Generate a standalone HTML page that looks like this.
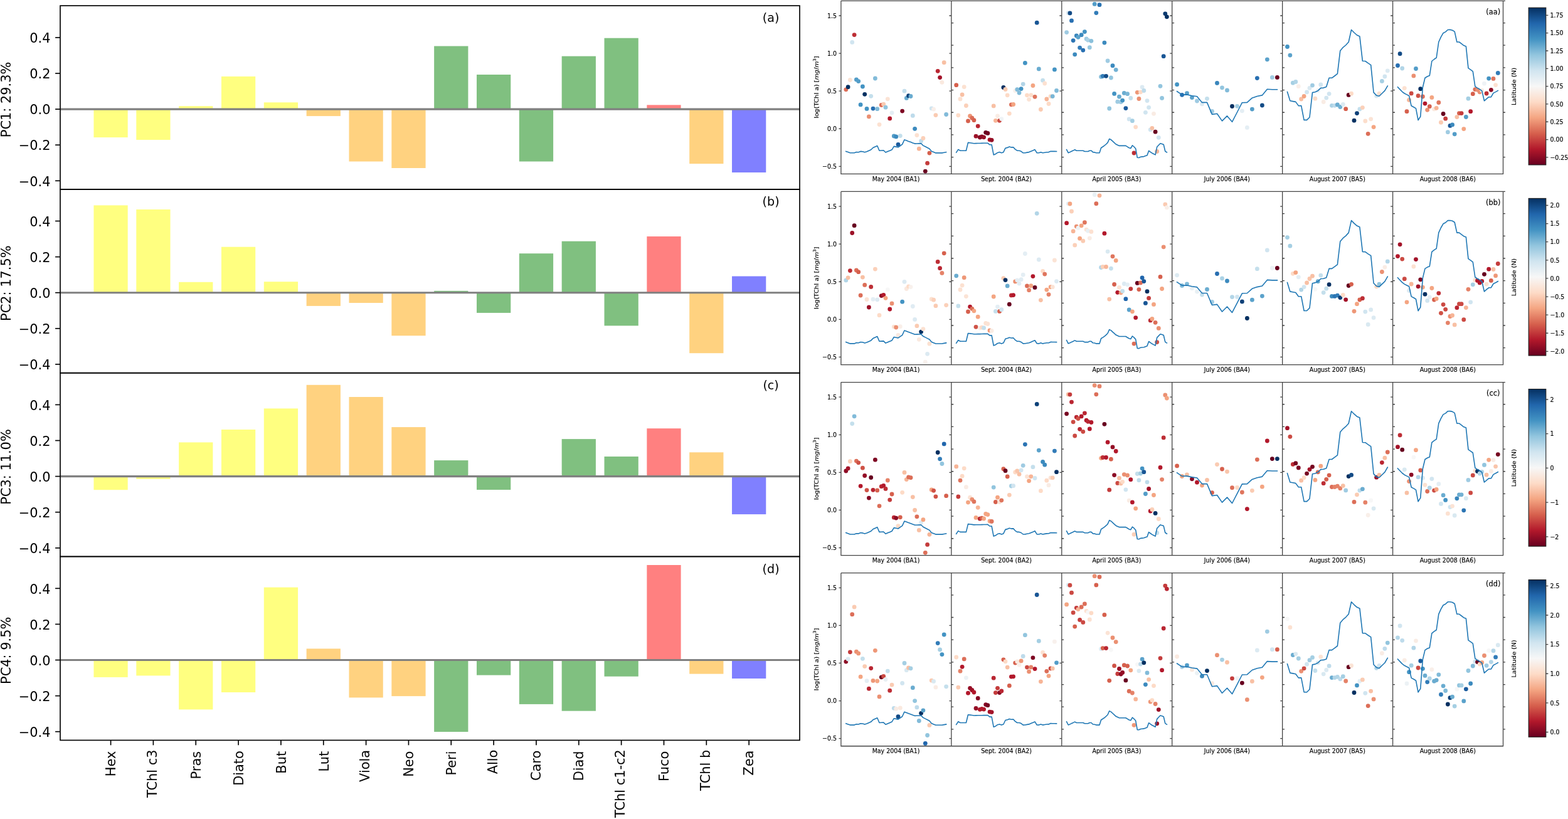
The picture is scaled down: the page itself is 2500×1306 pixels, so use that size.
<!DOCTYPE html>
<html lang="en"><head><meta charset="utf-8"><title>PCA loadings and TChl a scatter panels</title>
<style>
html,body{margin:0;padding:0;background:#fff;}
body{width:2500px;height:1306px;overflow:hidden;}
svg{display:block;font-family:'DejaVu Sans','Liberation Sans',sans-serif;}
</style></head><body>
<svg xmlns="http://www.w3.org/2000/svg" width="2500" height="1306" viewBox="0 0 2500 1306">
<rect width="2500" height="1306" fill="#fff"/>
<g id="left">
<rect x="149.43" y="174.10" width="54.27" height="45.00" fill="#ffff80"/>
<rect x="217.27" y="174.10" width="54.27" height="48.90" fill="#ffff80"/>
<rect x="285.11" y="169.20" width="54.27" height="4.90" fill="#ffff80"/>
<rect x="352.95" y="121.90" width="54.27" height="52.20" fill="#ffff80"/>
<rect x="420.79" y="163.30" width="54.27" height="10.80" fill="#ffff80"/>
<rect x="488.62" y="174.10" width="54.27" height="11.00" fill="#ffd280"/>
<rect x="556.47" y="174.10" width="54.27" height="83.40" fill="#ffd280"/>
<rect x="624.31" y="174.10" width="54.27" height="93.90" fill="#ffd280"/>
<rect x="692.14" y="73.50" width="54.27" height="100.60" fill="#80c080"/>
<rect x="759.99" y="119.00" width="54.27" height="55.10" fill="#80c080"/>
<rect x="827.83" y="174.10" width="54.27" height="83.40" fill="#80c080"/>
<rect x="895.66" y="89.60" width="54.27" height="84.50" fill="#80c080"/>
<rect x="963.51" y="60.70" width="54.27" height="113.40" fill="#80c080"/>
<rect x="1031.35" y="167.40" width="54.27" height="6.70" fill="#ff8080"/>
<rect x="1099.18" y="174.10" width="54.27" height="87.00" fill="#ffd280"/>
<rect x="1167.03" y="174.10" width="54.27" height="100.90" fill="#8080ff"/>
<line x1="96.0" x2="1275.0" y1="174.1" y2="174.1" stroke="#808080" stroke-width="3.1"/>
<rect x="149.43" y="327.40" width="54.27" height="139.30" fill="#ffff80"/>
<rect x="217.27" y="334.00" width="54.27" height="132.70" fill="#ffff80"/>
<rect x="285.11" y="449.80" width="54.27" height="16.90" fill="#ffff80"/>
<rect x="352.95" y="393.70" width="54.27" height="73.00" fill="#ffff80"/>
<rect x="420.79" y="449.20" width="54.27" height="17.50" fill="#ffff80"/>
<rect x="488.62" y="466.70" width="54.27" height="21.20" fill="#ffd280"/>
<rect x="556.47" y="466.70" width="54.27" height="16.30" fill="#ffd280"/>
<rect x="624.31" y="466.70" width="54.27" height="68.60" fill="#ffd280"/>
<rect x="692.14" y="463.80" width="54.27" height="2.90" fill="#80c080"/>
<rect x="759.99" y="466.70" width="54.27" height="32.20" fill="#80c080"/>
<rect x="827.83" y="404.20" width="54.27" height="62.50" fill="#80c080"/>
<rect x="895.66" y="384.70" width="54.27" height="82.00" fill="#80c080"/>
<rect x="963.51" y="466.70" width="54.27" height="52.70" fill="#80c080"/>
<rect x="1031.35" y="377.00" width="54.27" height="89.70" fill="#ff8080"/>
<rect x="1099.18" y="466.70" width="54.27" height="96.50" fill="#ffd280"/>
<rect x="1167.03" y="440.50" width="54.27" height="26.20" fill="#8080ff"/>
<line x1="96.0" x2="1275.0" y1="466.7" y2="466.7" stroke="#808080" stroke-width="3.1"/>
<rect x="149.43" y="759.60" width="54.27" height="21.60" fill="#ffff80"/>
<rect x="217.27" y="759.60" width="54.27" height="4.20" fill="#ffff80"/>
<rect x="285.11" y="705.40" width="54.27" height="54.20" fill="#ffff80"/>
<rect x="352.95" y="685.00" width="54.27" height="74.60" fill="#ffff80"/>
<rect x="420.79" y="651.40" width="54.27" height="108.20" fill="#ffff80"/>
<rect x="488.62" y="613.80" width="54.27" height="145.80" fill="#ffd280"/>
<rect x="556.47" y="633.00" width="54.27" height="126.60" fill="#ffd280"/>
<rect x="624.31" y="681.10" width="54.27" height="78.50" fill="#ffd280"/>
<rect x="692.14" y="734.10" width="54.27" height="25.50" fill="#80c080"/>
<rect x="759.99" y="759.60" width="54.27" height="21.40" fill="#80c080"/>
<rect x="895.66" y="700.10" width="54.27" height="59.50" fill="#80c080"/>
<rect x="963.51" y="728.00" width="54.27" height="31.60" fill="#80c080"/>
<rect x="1031.35" y="683.20" width="54.27" height="76.40" fill="#ff8080"/>
<rect x="1099.18" y="721.30" width="54.27" height="38.30" fill="#ffd280"/>
<rect x="1167.03" y="759.60" width="54.27" height="60.50" fill="#8080ff"/>
<line x1="96.0" x2="1275.0" y1="759.6" y2="759.6" stroke="#808080" stroke-width="3.1"/>
<rect x="149.43" y="1052.50" width="54.27" height="27.40" fill="#ffff80"/>
<rect x="217.27" y="1052.50" width="54.27" height="24.90" fill="#ffff80"/>
<rect x="285.11" y="1052.50" width="54.27" height="78.90" fill="#ffff80"/>
<rect x="352.95" y="1052.50" width="54.27" height="51.50" fill="#ffff80"/>
<rect x="420.79" y="936.60" width="54.27" height="115.90" fill="#ffff80"/>
<rect x="488.62" y="1034.40" width="54.27" height="18.10" fill="#ffd280"/>
<rect x="556.47" y="1052.50" width="54.27" height="59.90" fill="#ffd280"/>
<rect x="624.31" y="1052.50" width="54.27" height="57.60" fill="#ffd280"/>
<rect x="692.14" y="1052.50" width="54.27" height="114.50" fill="#80c080"/>
<rect x="759.99" y="1052.50" width="54.27" height="24.10" fill="#80c080"/>
<rect x="827.83" y="1052.50" width="54.27" height="70.40" fill="#80c080"/>
<rect x="895.66" y="1052.50" width="54.27" height="81.20" fill="#80c080"/>
<rect x="963.51" y="1052.50" width="54.27" height="26.20" fill="#80c080"/>
<rect x="1031.35" y="901.00" width="54.27" height="151.50" fill="#ff8080"/>
<rect x="1099.18" y="1052.50" width="54.27" height="22.10" fill="#ffd280"/>
<rect x="1167.03" y="1052.50" width="54.27" height="29.50" fill="#8080ff"/>
<line x1="96.0" x2="1275.0" y1="1052.5" y2="1052.5" stroke="#808080" stroke-width="3.1"/>
<rect x="96.0" y="9.1" width="1179.00" height="292.80" fill="none" stroke="#000" stroke-width="1.67"/>
<line x1="88.10" x2="96.0" y1="59.90" y2="59.90" stroke="#000" stroke-width="1.67"/>
<text x="80.50" y="68.10" text-anchor="end" font-size="20.9">0.4</text>
<line x1="88.10" x2="96.0" y1="117.00" y2="117.00" stroke="#000" stroke-width="1.67"/>
<text x="80.50" y="125.20" text-anchor="end" font-size="20.9">0.2</text>
<line x1="88.10" x2="96.0" y1="174.10" y2="174.10" stroke="#000" stroke-width="1.67"/>
<text x="80.50" y="182.30" text-anchor="end" font-size="20.9">0.0</text>
<line x1="88.10" x2="96.0" y1="231.20" y2="231.20" stroke="#000" stroke-width="1.67"/>
<text x="80.50" y="239.40" text-anchor="end" font-size="20.9">−0.2</text>
<line x1="88.10" x2="96.0" y1="288.30" y2="288.30" stroke="#000" stroke-width="1.67"/>
<text x="80.50" y="296.50" text-anchor="end" font-size="20.9">−0.4</text>
<text transform="translate(16.8,158.90) rotate(-90)" text-anchor="middle" font-size="20.9">PC1: 29.3%</text>
<text x="1229.1" y="35.10" text-anchor="middle" font-size="19.1">(a)</text>
<rect x="96.0" y="301.9" width="1179.00" height="292.80" fill="none" stroke="#000" stroke-width="1.67"/>
<line x1="88.10" x2="96.0" y1="352.50" y2="352.50" stroke="#000" stroke-width="1.67"/>
<text x="80.50" y="360.70" text-anchor="end" font-size="20.9">0.4</text>
<line x1="88.10" x2="96.0" y1="409.60" y2="409.60" stroke="#000" stroke-width="1.67"/>
<text x="80.50" y="417.80" text-anchor="end" font-size="20.9">0.2</text>
<line x1="88.10" x2="96.0" y1="466.70" y2="466.70" stroke="#000" stroke-width="1.67"/>
<text x="80.50" y="474.90" text-anchor="end" font-size="20.9">0.0</text>
<line x1="88.10" x2="96.0" y1="523.80" y2="523.80" stroke="#000" stroke-width="1.67"/>
<text x="80.50" y="532.00" text-anchor="end" font-size="20.9">−0.2</text>
<line x1="88.10" x2="96.0" y1="580.90" y2="580.90" stroke="#000" stroke-width="1.67"/>
<text x="80.50" y="589.10" text-anchor="end" font-size="20.9">−0.4</text>
<text transform="translate(16.8,451.70) rotate(-90)" text-anchor="middle" font-size="20.9">PC2: 17.5%</text>
<text x="1229.1" y="327.90" text-anchor="middle" font-size="19.1">(b)</text>
<rect x="96.0" y="594.7" width="1179.00" height="292.80" fill="none" stroke="#000" stroke-width="1.67"/>
<line x1="88.10" x2="96.0" y1="645.40" y2="645.40" stroke="#000" stroke-width="1.67"/>
<text x="80.50" y="653.60" text-anchor="end" font-size="20.9">0.4</text>
<line x1="88.10" x2="96.0" y1="702.50" y2="702.50" stroke="#000" stroke-width="1.67"/>
<text x="80.50" y="710.70" text-anchor="end" font-size="20.9">0.2</text>
<line x1="88.10" x2="96.0" y1="759.60" y2="759.60" stroke="#000" stroke-width="1.67"/>
<text x="80.50" y="767.80" text-anchor="end" font-size="20.9">0.0</text>
<line x1="88.10" x2="96.0" y1="816.70" y2="816.70" stroke="#000" stroke-width="1.67"/>
<text x="80.50" y="824.90" text-anchor="end" font-size="20.9">−0.2</text>
<line x1="88.10" x2="96.0" y1="873.80" y2="873.80" stroke="#000" stroke-width="1.67"/>
<text x="80.50" y="882.00" text-anchor="end" font-size="20.9">−0.4</text>
<text transform="translate(16.8,744.50) rotate(-90)" text-anchor="middle" font-size="20.9">PC3: 11.0%</text>
<text x="1229.1" y="620.70" text-anchor="middle" font-size="19.1">(c)</text>
<rect x="96.0" y="887.5" width="1179.00" height="292.90" fill="none" stroke="#000" stroke-width="1.67"/>
<line x1="88.10" x2="96.0" y1="938.30" y2="938.30" stroke="#000" stroke-width="1.67"/>
<text x="80.50" y="946.50" text-anchor="end" font-size="20.9">0.4</text>
<line x1="88.10" x2="96.0" y1="995.40" y2="995.40" stroke="#000" stroke-width="1.67"/>
<text x="80.50" y="1003.60" text-anchor="end" font-size="20.9">0.2</text>
<line x1="88.10" x2="96.0" y1="1052.50" y2="1052.50" stroke="#000" stroke-width="1.67"/>
<text x="80.50" y="1060.70" text-anchor="end" font-size="20.9">0.0</text>
<line x1="88.10" x2="96.0" y1="1109.60" y2="1109.60" stroke="#000" stroke-width="1.67"/>
<text x="80.50" y="1117.80" text-anchor="end" font-size="20.9">−0.2</text>
<line x1="88.10" x2="96.0" y1="1166.70" y2="1166.70" stroke="#000" stroke-width="1.67"/>
<text x="80.50" y="1174.90" text-anchor="end" font-size="20.9">−0.4</text>
<text transform="translate(16.8,1037.35) rotate(-90)" text-anchor="middle" font-size="20.9">PC4: 9.5%</text>
<text x="1229.1" y="913.50" text-anchor="middle" font-size="19.1">(d)</text>
<line x1="176.56" x2="176.56" y1="1180.4" y2="1188.30" stroke="#000" stroke-width="1.67"/>
<text transform="translate(184.36,1197.75) rotate(-90)" text-anchor="end" font-size="20.9">Hex</text>
<line x1="244.40" x2="244.40" y1="1180.4" y2="1188.30" stroke="#000" stroke-width="1.67"/>
<text transform="translate(250.00,1195.50) rotate(-90)" text-anchor="end" font-size="20.9">TChl c3</text>
<line x1="312.24" x2="312.24" y1="1180.4" y2="1188.30" stroke="#000" stroke-width="1.67"/>
<text transform="translate(320.04,1197.90) rotate(-90)" text-anchor="end" font-size="20.9">Pras</text>
<line x1="380.08" x2="380.08" y1="1180.4" y2="1188.30" stroke="#000" stroke-width="1.67"/>
<text transform="translate(388.18,1197.20) rotate(-90)" text-anchor="end" font-size="20.9">Diato</text>
<line x1="447.92" x2="447.92" y1="1180.4" y2="1188.30" stroke="#000" stroke-width="1.67"/>
<text transform="translate(455.92,1197.90) rotate(-90)" text-anchor="end" font-size="20.9">But</text>
<line x1="515.76" x2="515.76" y1="1180.4" y2="1188.30" stroke="#000" stroke-width="1.67"/>
<text transform="translate(523.56,1197.90) rotate(-90)" text-anchor="end" font-size="20.9">Lut</text>
<line x1="583.60" x2="583.60" y1="1180.4" y2="1188.30" stroke="#000" stroke-width="1.67"/>
<text transform="translate(589.40,1195.90) rotate(-90)" text-anchor="end" font-size="20.9">Viola</text>
<line x1="651.44" x2="651.44" y1="1180.4" y2="1188.30" stroke="#000" stroke-width="1.67"/>
<text transform="translate(659.24,1197.60) rotate(-90)" text-anchor="end" font-size="20.9">Neo</text>
<line x1="719.28" x2="719.28" y1="1180.4" y2="1188.30" stroke="#000" stroke-width="1.67"/>
<text transform="translate(727.28,1197.50) rotate(-90)" text-anchor="end" font-size="20.9">Peri</text>
<line x1="787.12" x2="787.12" y1="1180.4" y2="1188.30" stroke="#000" stroke-width="1.67"/>
<text transform="translate(793.12,1195.60) rotate(-90)" text-anchor="end" font-size="20.9">Allo</text>
<line x1="854.96" x2="854.96" y1="1180.4" y2="1188.30" stroke="#000" stroke-width="1.67"/>
<text transform="translate(861.96,1196.80) rotate(-90)" text-anchor="end" font-size="20.9">Caro</text>
<line x1="922.80" x2="922.80" y1="1180.4" y2="1188.30" stroke="#000" stroke-width="1.67"/>
<text transform="translate(930.40,1197.40) rotate(-90)" text-anchor="end" font-size="20.9">Diad</text>
<line x1="990.64" x2="990.64" y1="1180.4" y2="1188.30" stroke="#000" stroke-width="1.67"/>
<text transform="translate(996.44,1195.20) rotate(-90)" text-anchor="end" font-size="20.9">TChl c1-c2</text>
<line x1="1058.48" x2="1058.48" y1="1180.4" y2="1188.30" stroke="#000" stroke-width="1.67"/>
<text transform="translate(1066.48,1197.70) rotate(-90)" text-anchor="end" font-size="20.9">Fuco</text>
<line x1="1126.32" x2="1126.32" y1="1180.4" y2="1188.30" stroke="#000" stroke-width="1.67"/>
<text transform="translate(1132.12,1195.80) rotate(-90)" text-anchor="end" font-size="20.9">TChl b</text>
<line x1="1194.16" x2="1194.16" y1="1180.4" y2="1188.30" stroke="#000" stroke-width="1.67"/>
<text transform="translate(1201.06,1196.70) rotate(-90)" text-anchor="end" font-size="20.9">Zea</text>
</g>
<defs><linearGradient id="rdbu" x1="0" y1="1" x2="0" y2="0">
<stop offset="0.0" stop-color="#67001f"/>
<stop offset="0.1" stop-color="#b2182b"/>
<stop offset="0.2" stop-color="#d6604d"/>
<stop offset="0.3" stop-color="#f4a582"/>
<stop offset="0.4" stop-color="#fddbc7"/>
<stop offset="0.5" stop-color="#f7f7f7"/>
<stop offset="0.6" stop-color="#d1e5f0"/>
<stop offset="0.7" stop-color="#92c5de"/>
<stop offset="0.8" stop-color="#4393c3"/>
<stop offset="0.9" stop-color="#2166ac"/>
<stop offset="1.0" stop-color="#053061"/>
</linearGradient></defs>
<clipPath id="cl0"><rect x="1340.9" y="1.35" width="1055.64" height="276.10"/></clipPath>
<clipPath id="cl1"><rect x="1340.9" y="305.45" width="1055.64" height="276.10"/></clipPath>
<clipPath id="cl2"><rect x="1340.9" y="609.55" width="1055.64" height="276.10"/></clipPath>
<clipPath id="cl3"><rect x="1340.9" y="913.65" width="1055.64" height="276.10"/></clipPath>
<g id="right" font-size="9.45" fill="#000" stroke="#000" stroke-width="0.15">
<g id="row0">
<g stroke="none" clip-path="url(#cl0)">
<circle cx="1348.8" cy="142.8" r="3.4" fill="#dc6e58"/>
<circle cx="1352.1" cy="138.7" r="3.4" fill="#053061"/>
<circle cx="1355.4" cy="127.5" r="3.4" fill="#fbe3d5"/>
<circle cx="1358.7" cy="67.4" r="3.4" fill="#d1e5f0"/>
<circle cx="1362.1" cy="55.6" r="3.4" fill="#bd2e35"/>
<circle cx="1365.4" cy="126.9" r="3.4" fill="#539dc8"/>
<circle cx="1368.7" cy="129.6" r="3.4" fill="#539dc8"/>
<circle cx="1372.1" cy="166.9" r="3.4" fill="#4393c3"/>
<circle cx="1375.4" cy="138.0" r="3.4" fill="#4393c3"/>
<circle cx="1378.7" cy="150.3" r="3.4" fill="#053061"/>
<circle cx="1382.0" cy="173.4" r="3.4" fill="#4393c3"/>
<circle cx="1385.4" cy="185.9" r="3.4" fill="#eb9072"/>
<circle cx="1388.7" cy="153.3" r="3.4" fill="#c4dfec"/>
<circle cx="1392.0" cy="173.1" r="3.4" fill="#286fb1"/>
<circle cx="1395.4" cy="125.0" r="3.4" fill="#82bbd9"/>
<circle cx="1398.7" cy="173.7" r="3.4" fill="#82bbd9"/>
<circle cx="1402.0" cy="198.6" r="3.4" fill="#fce1d1"/>
<circle cx="1405.3" cy="167.5" r="3.4" fill="#dc6e58"/>
<circle cx="1408.7" cy="166.2" r="3.4" fill="#facbb2"/>
<circle cx="1412.0" cy="171.2" r="3.4" fill="#92c5de"/>
<circle cx="1415.3" cy="157.8" r="3.4" fill="#fbe3d5"/>
<circle cx="1418.7" cy="188.9" r="3.4" fill="#b2182b"/>
<circle cx="1422.0" cy="179.8" r="3.4" fill="#e4eef4"/>
<circle cx="1425.3" cy="217.0" r="3.4" fill="#539dc8"/>
<circle cx="1428.7" cy="217.9" r="3.4" fill="#3c8abe"/>
<circle cx="1432.0" cy="230.4" r="3.4" fill="#1b5b9d"/>
<circle cx="1435.3" cy="216.6" r="3.4" fill="#c4dfec"/>
<circle cx="1438.6" cy="177.1" r="3.4" fill="#7e0723"/>
<circle cx="1442.0" cy="145.2" r="3.4" fill="#c4dfec"/>
<circle cx="1445.3" cy="156.4" r="3.4" fill="#6aacd0"/>
<circle cx="1448.6" cy="152.7" r="3.4" fill="#0d4078"/>
<circle cx="1452.0" cy="153.5" r="3.4" fill="#6aacd0"/>
<circle cx="1455.3" cy="184.4" r="3.4" fill="#bedbeb"/>
<circle cx="1458.6" cy="205.3" r="3.4" fill="#3c8abe"/>
<circle cx="1461.9" cy="215.6" r="3.4" fill="#fce1d1"/>
<circle cx="1465.3" cy="237.2" r="3.4" fill="#f7b597"/>
<circle cx="1468.6" cy="225.0" r="3.4" fill="#bedbeb"/>
<circle cx="1471.9" cy="220.5" r="3.4" fill="#fbd0b9"/>
<circle cx="1475.3" cy="273.1" r="3.4" fill="#67001f"/>
<circle cx="1478.6" cy="260.2" r="3.4" fill="#c43c3c"/>
<circle cx="1481.9" cy="244.1" r="3.4" fill="#d6604d"/>
<circle cx="1485.2" cy="172.8" r="3.4" fill="#d1e5f0"/>
<circle cx="1488.6" cy="174.1" r="3.4" fill="#f9efe9"/>
<circle cx="1491.9" cy="183.6" r="3.4" fill="#facbb2"/>
<circle cx="1495.2" cy="113.3" r="3.4" fill="#b92632"/>
<circle cx="1498.6" cy="123.6" r="3.4" fill="#a31329"/>
<circle cx="1501.9" cy="131.3" r="3.4" fill="#fae9df"/>
<circle cx="1505.2" cy="99.7" r="3.4" fill="#f8c0a4"/>
<circle cx="1508.6" cy="182.5" r="3.4" fill="#82bbd9"/>
<circle cx="1524.7" cy="135.7" r="3.4" fill="#d6604d"/>
<circle cx="1527.8" cy="183.8" r="3.4" fill="#fddbc7"/>
<circle cx="1531.0" cy="157.9" r="3.4" fill="#fce1d1"/>
<circle cx="1534.1" cy="151.0" r="3.4" fill="#f8c0a4"/>
<circle cx="1537.2" cy="138.6" r="3.4" fill="#fce1d1"/>
<circle cx="1540.4" cy="168.5" r="3.4" fill="#fbd0b9"/>
<circle cx="1543.5" cy="192.9" r="3.4" fill="#d6604d"/>
<circle cx="1546.6" cy="185.0" r="3.4" fill="#ee9777"/>
<circle cx="1549.8" cy="188.2" r="3.4" fill="#dc6e58"/>
<circle cx="1552.9" cy="191.7" r="3.4" fill="#d6604d"/>
<circle cx="1556.0" cy="217.2" r="3.4" fill="#9c1127"/>
<circle cx="1559.2" cy="201.1" r="3.4" fill="#b92632"/>
<circle cx="1562.3" cy="219.0" r="3.4" fill="#850a24"/>
<circle cx="1565.4" cy="218.0" r="3.4" fill="#8c0c25"/>
<circle cx="1568.6" cy="218.8" r="3.4" fill="#940e26"/>
<circle cx="1571.7" cy="211.3" r="3.4" fill="#67001f"/>
<circle cx="1574.8" cy="212.4" r="3.4" fill="#6e0220"/>
<circle cx="1578.0" cy="222.8" r="3.4" fill="#b2182b"/>
<circle cx="1581.1" cy="223.3" r="3.4" fill="#940e26"/>
<circle cx="1584.2" cy="168.9" r="3.4" fill="#f8c0a4"/>
<circle cx="1587.4" cy="192.3" r="3.4" fill="#f7b597"/>
<circle cx="1590.5" cy="185.0" r="3.4" fill="#f9ece4"/>
<circle cx="1593.6" cy="192.3" r="3.4" fill="#cb4a43"/>
<circle cx="1596.8" cy="189.6" r="3.4" fill="#eff3f6"/>
<circle cx="1599.9" cy="139.5" r="3.4" fill="#053061"/>
<circle cx="1603.0" cy="142.5" r="3.4" fill="#facbb2"/>
<circle cx="1606.2" cy="151.8" r="3.4" fill="#fddbc7"/>
<circle cx="1609.3" cy="181.1" r="3.4" fill="#fddbc7"/>
<circle cx="1612.4" cy="166.8" r="3.4" fill="#dc6e58"/>
<circle cx="1615.6" cy="166.5" r="3.4" fill="#f4a582"/>
<circle cx="1618.7" cy="144.8" r="3.4" fill="#f8f1ed"/>
<circle cx="1621.8" cy="142.7" r="3.4" fill="#82bbd9"/>
<circle cx="1625.0" cy="148.0" r="3.4" fill="#82bbd9"/>
<circle cx="1628.1" cy="141.6" r="3.4" fill="#4393c3"/>
<circle cx="1631.2" cy="134.1" r="3.4" fill="#b2d5e7"/>
<circle cx="1634.4" cy="100.4" r="3.4" fill="#4393c3"/>
<circle cx="1637.5" cy="151.8" r="3.4" fill="#fddbc7"/>
<circle cx="1640.6" cy="158.6" r="3.4" fill="#fbe3d5"/>
<circle cx="1643.8" cy="151.6" r="3.4" fill="#fcdecc"/>
<circle cx="1646.9" cy="136.5" r="3.4" fill="#f4a582"/>
<circle cx="1650.0" cy="154.3" r="3.4" fill="#df755d"/>
<circle cx="1653.2" cy="36.2" r="3.4" fill="#195695"/>
<circle cx="1656.3" cy="109.9" r="3.4" fill="#6aacd0"/>
<circle cx="1659.4" cy="174.5" r="3.4" fill="#facbb2"/>
<circle cx="1662.6" cy="128.2" r="3.4" fill="#c4dfec"/>
<circle cx="1665.7" cy="133.0" r="3.4" fill="#fce1d1"/>
<circle cx="1668.8" cy="158.0" r="3.4" fill="#f7b597"/>
<circle cx="1672.0" cy="165.5" r="3.4" fill="#fddbc7"/>
<circle cx="1675.1" cy="153.6" r="3.4" fill="#fddbc7"/>
<circle cx="1678.2" cy="153.6" r="3.4" fill="#7ab6d6"/>
<circle cx="1681.4" cy="110.9" r="3.4" fill="#4393c3"/>
<circle cx="1684.5" cy="144.5" r="3.4" fill="#82bbd9"/>
<circle cx="1700.6" cy="51.6" r="3.4" fill="#9fcbe2"/>
<circle cx="1703.2" cy="20.7" r="3.4" fill="#dceaf2"/>
<circle cx="1705.9" cy="20.9" r="3.4" fill="#134b86"/>
<circle cx="1708.5" cy="32.9" r="3.4" fill="#286fb1"/>
<circle cx="1711.1" cy="64.6" r="3.4" fill="#2b74b3"/>
<circle cx="1713.7" cy="86.8" r="3.4" fill="#3c8abe"/>
<circle cx="1716.3" cy="57.0" r="3.4" fill="#3986bc"/>
<circle cx="1719.0" cy="59.3" r="3.4" fill="#5ba2cb"/>
<circle cx="1721.6" cy="76.1" r="3.4" fill="#327cb8"/>
<circle cx="1724.2" cy="55.7" r="3.4" fill="#3c8abe"/>
<circle cx="1726.8" cy="80.1" r="3.4" fill="#286fb1"/>
<circle cx="1729.4" cy="50.6" r="3.4" fill="#4393c3"/>
<circle cx="1732.1" cy="62.0" r="3.4" fill="#9fcbe2"/>
<circle cx="1734.7" cy="64.1" r="3.4" fill="#abd2e5"/>
<circle cx="1737.3" cy="75.7" r="3.4" fill="#98c8e0"/>
<circle cx="1739.9" cy="65.3" r="3.4" fill="#8ac0db"/>
<circle cx="1745.2" cy="6.4" r="3.4" fill="#539dc8"/>
<circle cx="1747.8" cy="20.6" r="3.4" fill="#327cb8"/>
<circle cx="1750.4" cy="-1.2" r="3.4" fill="#f7f7f7"/>
<circle cx="1753.0" cy="7.7" r="3.4" fill="#2b74b3"/>
<circle cx="1755.6" cy="122.4" r="3.4" fill="#82bbd9"/>
<circle cx="1758.3" cy="121.3" r="3.4" fill="#327cb8"/>
<circle cx="1760.9" cy="68.1" r="3.4" fill="#3c8abe"/>
<circle cx="1763.5" cy="121.3" r="3.4" fill="#134b86"/>
<circle cx="1766.1" cy="97.0" r="3.4" fill="#9fcbe2"/>
<circle cx="1768.7" cy="173.0" r="3.4" fill="#92c5de"/>
<circle cx="1771.4" cy="124.0" r="3.4" fill="#92c5de"/>
<circle cx="1774.0" cy="104.7" r="3.4" fill="#3c8abe"/>
<circle cx="1776.6" cy="149.4" r="3.4" fill="#4393c3"/>
<circle cx="1779.2" cy="111.3" r="3.4" fill="#72b1d3"/>
<circle cx="1781.8" cy="162.2" r="3.4" fill="#9fcbe2"/>
<circle cx="1784.5" cy="154.2" r="3.4" fill="#6aacd0"/>
<circle cx="1787.1" cy="162.7" r="3.4" fill="#9fcbe2"/>
<circle cx="1789.7" cy="160.1" r="3.4" fill="#4393c3"/>
<circle cx="1792.3" cy="148.4" r="3.4" fill="#6aacd0"/>
<circle cx="1794.9" cy="172.6" r="3.4" fill="#1b5b9d"/>
<circle cx="1797.6" cy="149.7" r="3.4" fill="#7ab6d6"/>
<circle cx="1800.2" cy="189.9" r="3.4" fill="#d1e5f0"/>
<circle cx="1802.8" cy="156.5" r="3.4" fill="#c4dfec"/>
<circle cx="1805.4" cy="192.7" r="3.4" fill="#a5cfe3"/>
<circle cx="1808.0" cy="244.0" r="3.4" fill="#bd2e35"/>
<circle cx="1810.7" cy="202.6" r="3.4" fill="#fddbc7"/>
<circle cx="1813.3" cy="147.3" r="3.4" fill="#ee9777"/>
<circle cx="1815.9" cy="157.5" r="3.4" fill="#eb9072"/>
<circle cx="1818.5" cy="146.8" r="3.4" fill="#fddbc7"/>
<circle cx="1821.1" cy="138.9" r="3.4" fill="#dceaf2"/>
<circle cx="1823.8" cy="144.5" r="3.4" fill="#bedbeb"/>
<circle cx="1826.4" cy="179.3" r="3.4" fill="#d1e5f0"/>
<circle cx="1829.0" cy="160.6" r="3.4" fill="#d1e5f0"/>
<circle cx="1831.6" cy="171.3" r="3.4" fill="#d1e5f0"/>
<circle cx="1834.2" cy="206.8" r="3.4" fill="#d1e5f0"/>
<circle cx="1836.9" cy="204.3" r="3.4" fill="#f8c0a4"/>
<circle cx="1839.5" cy="181.3" r="3.4" fill="#f9ece4"/>
<circle cx="1842.1" cy="210.2" r="3.4" fill="#67001f"/>
<circle cx="1844.7" cy="241.5" r="3.4" fill="#f7b597"/>
<circle cx="1847.3" cy="219.3" r="3.4" fill="#d1e5f0"/>
<circle cx="1850.0" cy="137.3" r="3.4" fill="#92c5de"/>
<circle cx="1852.6" cy="156.4" r="3.4" fill="#92c5de"/>
<circle cx="1855.2" cy="89.7" r="3.4" fill="#195695"/>
<circle cx="1857.8" cy="21.8" r="3.4" fill="#0b3b70"/>
<circle cx="1860.4" cy="26.8" r="3.4" fill="#053061"/>
<circle cx="1876.6" cy="134.7" r="3.4" fill="#4393c3"/>
<circle cx="1884.6" cy="151.3" r="3.4" fill="#286fb1"/>
<circle cx="1892.5" cy="148.7" r="3.4" fill="#5ba2cb"/>
<circle cx="1900.5" cy="155.6" r="3.4" fill="#5ba2cb"/>
<circle cx="1908.5" cy="161.0" r="3.4" fill="#9fcbe2"/>
<circle cx="1916.5" cy="165.9" r="3.4" fill="#dceaf2"/>
<circle cx="1924.5" cy="157.3" r="3.4" fill="#c4dfec"/>
<circle cx="1932.5" cy="177.4" r="3.4" fill="#9fcbe2"/>
<circle cx="1940.5" cy="132.4" r="3.4" fill="#3986bc"/>
<circle cx="1948.5" cy="139.8" r="3.4" fill="#92c5de"/>
<circle cx="1956.5" cy="143.9" r="3.4" fill="#82bbd9"/>
<circle cx="1964.5" cy="169.5" r="3.4" fill="#053061"/>
<circle cx="1972.5" cy="169.3" r="3.4" fill="#a5cfe3"/>
<circle cx="1980.4" cy="176.8" r="3.4" fill="#e4eef4"/>
<circle cx="1988.4" cy="203.4" r="3.4" fill="#e4eef4"/>
<circle cx="1996.4" cy="174.1" r="3.4" fill="#539dc8"/>
<circle cx="2004.4" cy="124.6" r="3.4" fill="#286fb1"/>
<circle cx="2012.4" cy="168.0" r="3.4" fill="#134b86"/>
<circle cx="2020.4" cy="94.8" r="3.4" fill="#5ba2cb"/>
<circle cx="2028.4" cy="123.4" r="3.4" fill="#9fcbe2"/>
<circle cx="2036.4" cy="123.4" r="3.4" fill="#67001f"/>
<circle cx="2052.5" cy="74.5" r="3.4" fill="#4393c3"/>
<circle cx="2056.9" cy="88.1" r="3.4" fill="#5ba2cb"/>
<circle cx="2061.4" cy="132.2" r="3.4" fill="#a5cfe3"/>
<circle cx="2065.8" cy="130.5" r="3.4" fill="#b2d5e7"/>
<circle cx="2070.3" cy="137.7" r="3.4" fill="#f9efe9"/>
<circle cx="2074.7" cy="158.0" r="3.4" fill="#f8c0a4"/>
<circle cx="2079.1" cy="153.5" r="3.4" fill="#f4a582"/>
<circle cx="2083.6" cy="146.9" r="3.4" fill="#d1e5f0"/>
<circle cx="2088.0" cy="140.4" r="3.4" fill="#d9e9f1"/>
<circle cx="2092.5" cy="136.1" r="3.4" fill="#9fcbe2"/>
<circle cx="2096.9" cy="157.2" r="3.4" fill="#fddbc7"/>
<circle cx="2101.3" cy="144.6" r="3.4" fill="#ecf2f5"/>
<circle cx="2105.8" cy="135.0" r="3.4" fill="#d1e5f0"/>
<circle cx="2110.2" cy="162.5" r="3.4" fill="#f9ece4"/>
<circle cx="2114.7" cy="156.1" r="3.4" fill="#d1e5f0"/>
<circle cx="2119.1" cy="149.6" r="3.4" fill="#d1e5f0"/>
<circle cx="2123.5" cy="168.3" r="3.4" fill="#abd2e5"/>
<circle cx="2128.0" cy="168.3" r="3.4" fill="#bedbeb"/>
<circle cx="2132.4" cy="167.0" r="3.4" fill="#6aacd0"/>
<circle cx="2136.8" cy="170.5" r="3.4" fill="#72b1d3"/>
<circle cx="2141.3" cy="166.4" r="3.4" fill="#dceaf2"/>
<circle cx="2145.7" cy="173.7" r="3.4" fill="#d6604d"/>
<circle cx="2150.2" cy="151.4" r="3.4" fill="#67001f"/>
<circle cx="2154.6" cy="149.2" r="3.4" fill="#fddbc7"/>
<circle cx="2159.0" cy="192.2" r="3.4" fill="#053061"/>
<circle cx="2163.5" cy="180.6" r="3.4" fill="#0d4078"/>
<circle cx="2167.9" cy="173.9" r="3.4" fill="#c4dfec"/>
<circle cx="2172.4" cy="171.6" r="3.4" fill="#fbd0b9"/>
<circle cx="2176.8" cy="193.0" r="3.4" fill="#fcdecc"/>
<circle cx="2181.2" cy="213.3" r="3.4" fill="#dc6e58"/>
<circle cx="2185.7" cy="189.8" r="3.4" fill="#fbe3d5"/>
<circle cx="2190.1" cy="202.6" r="3.4" fill="#f4a582"/>
<circle cx="2194.6" cy="153.0" r="3.4" fill="#d9e9f1"/>
<circle cx="2199.0" cy="149.1" r="3.4" fill="#fce1d1"/>
<circle cx="2203.4" cy="129.4" r="3.4" fill="#a5cfe3"/>
<circle cx="2207.9" cy="122.0" r="3.4" fill="#d1e5f0"/>
<circle cx="2212.3" cy="112.8" r="3.4" fill="#dceaf2"/>
<circle cx="2228.5" cy="104.5" r="3.4" fill="#286fb1"/>
<circle cx="2232.1" cy="85.7" r="3.4" fill="#134b86"/>
<circle cx="2235.7" cy="109.0" r="3.4" fill="#b2d5e7"/>
<circle cx="2239.3" cy="140.6" r="3.4" fill="#fce1d1"/>
<circle cx="2243.0" cy="177.7" r="3.4" fill="#d6604d"/>
<circle cx="2246.6" cy="159.4" r="3.4" fill="#f7b597"/>
<circle cx="2250.2" cy="148.9" r="3.4" fill="#cb4a43"/>
<circle cx="2253.9" cy="120.9" r="3.4" fill="#eb9072"/>
<circle cx="2257.5" cy="109.5" r="3.4" fill="#539dc8"/>
<circle cx="2261.1" cy="152.7" r="3.4" fill="#cf5246"/>
<circle cx="2264.8" cy="141.7" r="3.4" fill="#053061"/>
<circle cx="2268.4" cy="154.0" r="3.4" fill="#dc6e58"/>
<circle cx="2272.0" cy="165.1" r="3.4" fill="#b2182b"/>
<circle cx="2275.7" cy="175.3" r="3.4" fill="#eb9072"/>
<circle cx="2279.3" cy="169.7" r="3.4" fill="#d6604d"/>
<circle cx="2282.9" cy="155.4" r="3.4" fill="#f4a582"/>
<circle cx="2286.6" cy="173.9" r="3.4" fill="#fae9df"/>
<circle cx="2290.2" cy="172.3" r="3.4" fill="#f7b597"/>
<circle cx="2293.8" cy="163.5" r="3.4" fill="#df755d"/>
<circle cx="2297.5" cy="195.2" r="3.4" fill="#facbb2"/>
<circle cx="2301.1" cy="181.5" r="3.4" fill="#67001f"/>
<circle cx="2304.7" cy="189.2" r="3.4" fill="#c43c3c"/>
<circle cx="2308.4" cy="210.7" r="3.4" fill="#9fcbe2"/>
<circle cx="2312.0" cy="200.4" r="3.4" fill="#195695"/>
<circle cx="2315.6" cy="198.9" r="3.4" fill="#3c8abe"/>
<circle cx="2319.2" cy="213.8" r="3.4" fill="#539dc8"/>
<circle cx="2322.9" cy="186.6" r="3.4" fill="#f8c0a4"/>
<circle cx="2326.5" cy="180.6" r="3.4" fill="#d6604d"/>
<circle cx="2330.1" cy="180.6" r="3.4" fill="#c43c3c"/>
<circle cx="2333.8" cy="205.6" r="3.4" fill="#f4a582"/>
<circle cx="2337.4" cy="186.5" r="3.4" fill="#539dc8"/>
<circle cx="2341.0" cy="157.2" r="3.4" fill="#a5cfe3"/>
<circle cx="2344.7" cy="177.7" r="3.4" fill="#b2182b"/>
<circle cx="2348.3" cy="149.7" r="3.4" fill="#d6604d"/>
<circle cx="2351.9" cy="142.6" r="3.4" fill="#dc6e58"/>
<circle cx="2355.6" cy="143.3" r="3.4" fill="#eb9072"/>
<circle cx="2359.2" cy="146.8" r="3.4" fill="#eb9072"/>
<circle cx="2362.8" cy="144.2" r="3.4" fill="#f9ece4"/>
<circle cx="2366.5" cy="133.2" r="3.4" fill="#eff3f6"/>
<circle cx="2370.1" cy="149.0" r="3.4" fill="#bd2e35"/>
<circle cx="2373.7" cy="125.1" r="3.4" fill="#4393c3"/>
<circle cx="2377.4" cy="143.3" r="3.4" fill="#8c0c25"/>
<circle cx="2381.0" cy="125.4" r="3.4" fill="#df755d"/>
<circle cx="2384.6" cy="135.6" r="3.4" fill="#fce1d1"/>
<circle cx="2388.3" cy="116.4" r="3.4" fill="#327cb8"/>
</g>
<polyline points="1348.8,241.4 1352.1,242.6 1355.4,243.8 1358.7,243.8 1362.1,243.8 1365.4,242.5 1368.7,242.7 1372.1,241.4 1375.4,241.7 1378.7,242.8 1382.0,241.8 1385.4,240.3 1388.7,238.8 1392.0,235.5 1395.4,234.0 1398.7,232.5 1402.0,240.2 1405.3,240.0 1408.7,239.8 1412.0,243.0 1415.3,241.6 1418.7,240.2 1422.0,238.8 1425.3,233.4 1428.7,234.1 1432.0,234.8 1435.3,232.5 1438.6,230.2 1442.0,222.9 1445.3,224.1 1448.6,225.4 1452.0,226.6 1455.3,227.9 1458.6,229.1 1461.9,229.0 1465.3,228.9 1468.6,228.8 1471.9,232.1 1475.3,233.8 1478.6,235.5 1481.9,237.2 1485.2,241.2 1488.6,242.6 1491.9,243.9 1495.2,243.9 1498.6,243.9 1501.9,243.9 1505.2,243.3 1508.6,242.7" fill="none" stroke="#1f77b4" stroke-width="1.6" stroke-linejoin="round" stroke-linecap="square"/>
<polyline points="1524.7,243.1 1527.8,238.4 1531.0,240.2 1534.1,240.2 1537.2,240.2 1540.4,240.2 1543.5,227.4 1546.6,227.8 1549.8,228.2 1552.9,228.7 1556.0,228.6 1559.2,228.5 1562.3,228.5 1565.4,228.4 1568.6,228.3 1571.7,228.3 1574.8,228.2 1578.0,230.8 1581.1,230.8 1584.2,246.9 1587.4,245.6 1590.5,243.4 1593.6,242.6 1596.8,243.8 1599.9,242.7 1603.0,236.2 1606.2,235.4 1609.3,234.1 1612.4,234.9 1615.6,234.7 1618.7,238.1 1621.8,240.2 1625.0,240.2 1628.1,241.3 1631.2,243.8 1634.4,243.7 1637.5,243.1 1640.6,242.6 1643.8,241.3 1646.9,240.0 1650.0,238.6 1653.2,243.7 1656.3,243.8 1659.4,242.7 1662.6,243.8 1665.7,243.2 1668.8,242.7 1672.0,242.6 1675.1,241.3 1678.2,241.4 1681.4,241.4 1684.5,241.5" fill="none" stroke="#1f77b4" stroke-width="1.6" stroke-linejoin="round" stroke-linecap="square"/>
<polyline points="1700.6,238.6 1703.2,243.7 1705.9,242.6 1708.5,241.3 1711.1,240.1 1713.7,238.8 1716.3,240.2 1719.0,240.2 1721.6,240.2 1724.2,240.2 1726.8,240.2 1729.4,241.5 1732.1,241.5 1734.7,241.5 1737.3,240.2 1739.9,240.2 1742.5,242.7 1745.2,242.9 1747.8,243.8 1750.4,243.8 1753.0,243.8 1755.6,235.7 1758.3,234.0 1760.9,232.2 1763.5,230.0 1766.1,227.4 1768.7,221.5 1771.4,222.8 1774.0,225.2 1776.6,227.6 1779.2,230.0 1781.8,231.2 1784.5,232.4 1787.1,232.4 1789.7,232.4 1792.3,232.4 1794.9,232.4 1797.6,234.1 1800.2,235.7 1802.8,236.5 1805.4,231.9 1808.0,234.0 1810.7,237.0 1813.3,251.3 1815.9,251.5 1818.5,250.2 1821.1,249.9 1823.8,249.6 1826.4,248.6 1829.0,247.7 1831.6,240.4 1834.2,242.3 1836.9,244.2 1839.5,245.5 1842.1,246.9 1844.7,234.3 1847.3,231.5 1850.0,228.7 1852.6,229.5 1855.2,230.4 1857.8,241.3 1860.4,242.9" fill="none" stroke="#1f77b4" stroke-width="1.6" stroke-linejoin="round" stroke-linecap="square"/>
<polyline points="1876.6,145.7 1884.6,151.1 1892.5,150.9 1900.5,152.7 1908.5,153.8 1916.5,163.4 1924.5,163.4 1932.5,182.4 1940.5,181.3 1948.5,192.9 1956.5,184.9 1964.5,194.3 1972.5,179.0 1980.4,163.7 1988.4,163.4 1996.4,156.2 2004.4,153.5 2012.4,151.9 2020.4,142.3 2028.4,142.8 2036.4,142.8" fill="none" stroke="#1f77b4" stroke-width="1.6" stroke-linejoin="round" stroke-linecap="square"/>
<polyline points="2052.5,146.5 2056.9,160.8 2061.4,161.6 2065.8,162.4 2070.3,168.6 2074.7,168.6 2079.1,191.4 2083.6,191.4 2088.0,187.0 2092.5,147.6 2096.9,146.8 2101.3,144.7 2105.8,140.4 2110.2,140.1 2114.7,138.6 2119.1,124.3 2123.5,124.3 2128.0,121.0 2132.4,117.7 2136.8,80.9 2141.3,75.6 2145.7,72.0 2150.2,67.0 2154.6,47.5 2159.0,52.0 2163.5,56.0 2167.9,57.9 2172.4,97.3 2176.8,97.5 2181.2,100.7 2185.7,103.6 2190.1,147.4 2194.6,152.2 2199.0,153.3 2203.4,149.0 2207.9,144.7 2212.3,137.0" fill="none" stroke="#1f77b4" stroke-width="1.6" stroke-linejoin="round" stroke-linecap="square"/>
<polyline points="2228.5,138.8 2232.1,142.6 2235.7,146.3 2239.3,149.0 2243.0,150.9 2246.6,152.7 2250.2,168.8 2253.9,170.7 2257.5,172.9 2261.1,191.6 2264.8,185.7 2268.4,139.3 2272.0,124.3 2275.7,122.0 2279.3,120.6 2282.9,97.5 2286.6,94.5 2290.2,92.2 2293.8,67.0 2297.5,58.9 2301.1,52.7 2304.7,50.9 2308.4,47.5 2312.0,47.4 2315.6,48.2 2319.2,50.4 2322.9,67.0 2326.5,67.0 2330.1,69.7 2333.8,72.6 2337.4,73.9 2341.0,108.6 2344.7,111.1 2348.3,113.8 2351.9,137.9 2355.6,140.4 2359.2,142.3 2362.8,144.9 2366.5,160.8 2370.1,157.6 2373.7,154.7 2377.4,154.6 2381.0,148.4 2384.6,146.6 2388.3,144.5" fill="none" stroke="#1f77b4" stroke-width="1.6" stroke-linejoin="round" stroke-linecap="square"/>
<path d="M1340.90,1.35H2399.94M2396.54,1.35V277.45H1340.90V1.35M1516.84,1.35V277.45M1692.78,1.35V277.45M1868.72,1.35V277.45M2044.66,1.35V277.45M2220.60,1.35V277.45M1337.50,25.00H1340.90M1337.50,85.08H1340.90M1337.50,145.16H1340.90M1337.50,205.24H1340.90M1337.50,265.32H1340.90M1516.84,36.55h3.4M1516.84,72.22h3.4M1516.84,107.89h3.4M1516.84,143.56h3.4M1516.84,179.23h3.4M1516.84,214.90h3.4M1516.84,250.57h3.4M1513.44,25.00H1516.84M1513.44,85.08H1516.84M1513.44,145.16H1516.84M1513.44,205.24H1516.84M1513.44,265.32H1516.84M1692.78,36.55h3.4M1692.78,72.22h3.4M1692.78,107.89h3.4M1692.78,143.56h3.4M1692.78,179.23h3.4M1692.78,214.90h3.4M1692.78,250.57h3.4M1689.38,25.00H1692.78M1689.38,85.08H1692.78M1689.38,145.16H1692.78M1689.38,205.24H1692.78M1689.38,265.32H1692.78M1868.72,36.55h3.4M1868.72,72.22h3.4M1868.72,107.89h3.4M1868.72,143.56h3.4M1868.72,179.23h3.4M1868.72,214.90h3.4M1868.72,250.57h3.4M1865.32,25.00H1868.72M1865.32,85.08H1868.72M1865.32,145.16H1868.72M1865.32,205.24H1868.72M1865.32,265.32H1868.72M2044.66,36.55h3.4M2044.66,72.22h3.4M2044.66,107.89h3.4M2044.66,143.56h3.4M2044.66,179.23h3.4M2044.66,214.90h3.4M2044.66,250.57h3.4M2041.26,25.00H2044.66M2041.26,85.08H2044.66M2041.26,145.16H2044.66M2041.26,205.24H2044.66M2041.26,265.32H2044.66M2220.60,36.55h3.4M2220.60,72.22h3.4M2220.60,107.89h3.4M2220.60,143.56h3.4M2220.60,179.23h3.4M2220.60,214.90h3.4M2220.60,250.57h3.4M2217.20,25.00H2220.60M2217.20,85.08H2220.60M2217.20,145.16H2220.60M2217.20,205.24H2220.60M2217.20,265.32H2220.60M2396.54,36.55h3.4M2396.54,72.22h3.4M2396.54,107.89h3.4M2396.54,143.56h3.4M2396.54,179.23h3.4M2396.54,214.90h3.4M2396.54,250.57h3.4" fill="none" stroke="#444" stroke-width="1.3"/>
<text transform="translate(1333.90,28.75) scale(1,1.07)" text-anchor="end">1.5</text>
<text transform="translate(1333.90,88.83) scale(1,1.07)" text-anchor="end">1.0</text>
<text transform="translate(1333.90,148.91) scale(1,1.07)" text-anchor="end">0.5</text>
<text transform="translate(1333.90,208.99) scale(1,1.07)" text-anchor="end">0.0</text>
<text transform="translate(1333.90,269.07) scale(1,1.07)" text-anchor="end">−0.5</text>
<text transform="translate(1428.57,289.15) scale(1,1.07)" text-anchor="middle">May 2004 (BA1)</text>
<text transform="translate(1604.51,289.15) scale(1,1.07)" text-anchor="middle">Sept. 2004 (BA2)</text>
<text transform="translate(1780.45,289.15) scale(1,1.07)" text-anchor="middle">April 2005 (BA3)</text>
<text transform="translate(1956.39,289.15) scale(1,1.07)" text-anchor="middle">July 2006 (BA4)</text>
<text transform="translate(2132.33,289.15) scale(1,1.07)" text-anchor="middle">August 2007 (BA5)</text>
<text transform="translate(2308.27,289.15) scale(1,1.07)" text-anchor="middle">August 2008 (BA6)</text>
<text transform="translate(1304.50,139.10) rotate(-90) scale(1.07,1)" text-anchor="middle">log(TChl a) [<tspan font-style="italic">mg</tspan>/<tspan font-style="italic">m</tspan><tspan font-size="6.61" dy="-3.4">3</tspan><tspan dy="3.4">]</tspan></text>
<text transform="translate(2417.20,138.00) rotate(-90) scale(1.07,1)" text-anchor="middle">Latitude (N)</text>
<text transform="translate(2380.70,22.85) scale(1,1.07)" text-anchor="middle" font-size="11.4">(aa)</text>
<rect x="2437.2" y="12.30" width="27.60" height="250.60" fill="url(#rdbu)" stroke="#1a1a1a" stroke-width="1.1"/>
<path d="M2464.8,24.40h3.6M2464.8,52.71h3.6M2464.8,81.02h3.6M2464.8,109.33h3.6M2464.8,137.64h3.6M2464.8,165.95h3.6M2464.8,194.26h3.6M2464.8,222.57h3.6M2464.8,250.88h3.6" fill="none" stroke="#444" stroke-width="1.3"/>
<text transform="translate(2471.40,28.15) scale(1,1.07)">1.75</text>
<text transform="translate(2471.40,56.46) scale(1,1.07)">1.50</text>
<text transform="translate(2471.40,84.77) scale(1,1.07)">1.25</text>
<text transform="translate(2471.40,113.08) scale(1,1.07)">1.00</text>
<text transform="translate(2471.40,141.39) scale(1,1.07)">0.75</text>
<text transform="translate(2471.40,169.70) scale(1,1.07)">0.50</text>
<text transform="translate(2471.40,198.01) scale(1,1.07)">0.25</text>
<text transform="translate(2471.40,226.32) scale(1,1.07)">0.00</text>
<text transform="translate(2471.40,254.63) scale(1,1.07)">−0.25</text>
</g>
<g id="row1">
<g stroke="none" clip-path="url(#cl1)">
<circle cx="1348.8" cy="446.9" r="3.4" fill="#b2d5e7"/>
<circle cx="1352.1" cy="442.8" r="3.4" fill="#f8c0a4"/>
<circle cx="1355.4" cy="431.6" r="3.4" fill="#bd2e35"/>
<circle cx="1358.7" cy="371.5" r="3.4" fill="#9c1127"/>
<circle cx="1362.1" cy="359.7" r="3.4" fill="#67001f"/>
<circle cx="1365.4" cy="431.0" r="3.4" fill="#dc6e58"/>
<circle cx="1368.7" cy="433.7" r="3.4" fill="#d6604d"/>
<circle cx="1372.1" cy="471.0" r="3.4" fill="#dc6e58"/>
<circle cx="1375.4" cy="442.1" r="3.4" fill="#f8c0a4"/>
<circle cx="1378.7" cy="454.4" r="3.4" fill="#dc6e58"/>
<circle cx="1382.0" cy="477.5" r="3.4" fill="#fbe3d5"/>
<circle cx="1385.4" cy="490.0" r="3.4" fill="#9c1127"/>
<circle cx="1388.7" cy="457.4" r="3.4" fill="#bd2e35"/>
<circle cx="1392.0" cy="477.2" r="3.4" fill="#e4eef4"/>
<circle cx="1395.4" cy="429.1" r="3.4" fill="#fbd0b9"/>
<circle cx="1398.7" cy="477.8" r="3.4" fill="#dceaf2"/>
<circle cx="1402.0" cy="502.7" r="3.4" fill="#fddbc7"/>
<circle cx="1405.3" cy="471.6" r="3.4" fill="#8c0c25"/>
<circle cx="1408.7" cy="470.3" r="3.4" fill="#b2182b"/>
<circle cx="1412.0" cy="475.3" r="3.4" fill="#f4a582"/>
<circle cx="1415.3" cy="461.9" r="3.4" fill="#f7f7f7"/>
<circle cx="1418.7" cy="493.0" r="3.4" fill="#b2182b"/>
<circle cx="1422.0" cy="483.9" r="3.4" fill="#eb9072"/>
<circle cx="1425.3" cy="521.1" r="3.4" fill="#fce1d1"/>
<circle cx="1428.7" cy="522.0" r="3.4" fill="#eb9072"/>
<circle cx="1432.0" cy="534.5" r="3.4" fill="#fae9df"/>
<circle cx="1435.3" cy="520.7" r="3.4" fill="#f9efe9"/>
<circle cx="1438.6" cy="481.2" r="3.4" fill="#4393c3"/>
<circle cx="1442.0" cy="449.3" r="3.4" fill="#dceaf2"/>
<circle cx="1445.3" cy="460.5" r="3.4" fill="#fae9df"/>
<circle cx="1448.6" cy="456.8" r="3.4" fill="#fddbc7"/>
<circle cx="1452.0" cy="457.6" r="3.4" fill="#f8f1ed"/>
<circle cx="1455.3" cy="488.5" r="3.4" fill="#e0ecf3"/>
<circle cx="1458.6" cy="509.4" r="3.4" fill="#dceaf2"/>
<circle cx="1461.9" cy="519.7" r="3.4" fill="#facbb2"/>
<circle cx="1465.3" cy="541.3" r="3.4" fill="#fae9df"/>
<circle cx="1468.6" cy="529.1" r="3.4" fill="#053061"/>
<circle cx="1471.9" cy="524.6" r="3.4" fill="#fce1d1"/>
<circle cx="1475.3" cy="577.2" r="3.4" fill="#f8f1ed"/>
<circle cx="1478.6" cy="564.3" r="3.4" fill="#dceaf2"/>
<circle cx="1481.9" cy="548.2" r="3.4" fill="#fce1d1"/>
<circle cx="1485.2" cy="476.9" r="3.4" fill="#fce1d1"/>
<circle cx="1488.6" cy="478.2" r="3.4" fill="#fbd0b9"/>
<circle cx="1491.9" cy="487.7" r="3.4" fill="#facbb2"/>
<circle cx="1495.2" cy="417.4" r="3.4" fill="#bd2e35"/>
<circle cx="1498.6" cy="427.7" r="3.4" fill="#b92632"/>
<circle cx="1501.9" cy="435.4" r="3.4" fill="#e58268"/>
<circle cx="1505.2" cy="403.8" r="3.4" fill="#d6604d"/>
<circle cx="1508.6" cy="486.6" r="3.4" fill="#fbd0b9"/>
<circle cx="1524.7" cy="439.8" r="3.4" fill="#6aacd0"/>
<circle cx="1527.8" cy="487.9" r="3.4" fill="#c4dfec"/>
<circle cx="1531.0" cy="462.0" r="3.4" fill="#fce1d1"/>
<circle cx="1534.1" cy="455.1" r="3.4" fill="#fce1d1"/>
<circle cx="1537.2" cy="442.7" r="3.4" fill="#ee9777"/>
<circle cx="1540.4" cy="472.6" r="3.4" fill="#fbe3d5"/>
<circle cx="1543.5" cy="497.0" r="3.4" fill="#d6604d"/>
<circle cx="1546.6" cy="489.1" r="3.4" fill="#b2182b"/>
<circle cx="1549.8" cy="492.3" r="3.4" fill="#dc6e58"/>
<circle cx="1552.9" cy="495.8" r="3.4" fill="#f4a582"/>
<circle cx="1556.0" cy="521.3" r="3.4" fill="#cf5246"/>
<circle cx="1559.2" cy="505.2" r="3.4" fill="#f4a582"/>
<circle cx="1562.3" cy="523.1" r="3.4" fill="#f9ece4"/>
<circle cx="1565.4" cy="522.1" r="3.4" fill="#fddbc7"/>
<circle cx="1568.6" cy="522.9" r="3.4" fill="#c4dfec"/>
<circle cx="1571.7" cy="515.4" r="3.4" fill="#fce1d1"/>
<circle cx="1574.8" cy="516.5" r="3.4" fill="#fbe3d5"/>
<circle cx="1578.0" cy="526.9" r="3.4" fill="#ee9777"/>
<circle cx="1581.1" cy="527.4" r="3.4" fill="#f9ece4"/>
<circle cx="1584.2" cy="473.0" r="3.4" fill="#f4a582"/>
<circle cx="1587.4" cy="496.4" r="3.4" fill="#c4dfec"/>
<circle cx="1590.5" cy="489.1" r="3.4" fill="#e4eef4"/>
<circle cx="1593.6" cy="496.4" r="3.4" fill="#d6604d"/>
<circle cx="1596.8" cy="493.7" r="3.4" fill="#d1e5f0"/>
<circle cx="1599.9" cy="443.6" r="3.4" fill="#facbb2"/>
<circle cx="1603.0" cy="446.6" r="3.4" fill="#053061"/>
<circle cx="1606.2" cy="455.9" r="3.4" fill="#6aacd0"/>
<circle cx="1609.3" cy="485.2" r="3.4" fill="#67001f"/>
<circle cx="1612.4" cy="470.9" r="3.4" fill="#b92632"/>
<circle cx="1615.6" cy="470.6" r="3.4" fill="#b2182b"/>
<circle cx="1618.7" cy="448.9" r="3.4" fill="#eb9072"/>
<circle cx="1621.8" cy="446.8" r="3.4" fill="#e4eef4"/>
<circle cx="1625.0" cy="452.1" r="3.4" fill="#e0ecf3"/>
<circle cx="1628.1" cy="445.7" r="3.4" fill="#e0ecf3"/>
<circle cx="1631.2" cy="438.2" r="3.4" fill="#e4eef4"/>
<circle cx="1634.4" cy="404.5" r="3.4" fill="#e4eef4"/>
<circle cx="1637.5" cy="455.9" r="3.4" fill="#dc6e58"/>
<circle cx="1640.6" cy="462.7" r="3.4" fill="#e58268"/>
<circle cx="1643.8" cy="455.7" r="3.4" fill="#f4a582"/>
<circle cx="1646.9" cy="440.6" r="3.4" fill="#b2182b"/>
<circle cx="1650.0" cy="458.4" r="3.4" fill="#67001f"/>
<circle cx="1653.2" cy="340.3" r="3.4" fill="#b2d5e7"/>
<circle cx="1656.3" cy="414.0" r="3.4" fill="#dceaf2"/>
<circle cx="1659.4" cy="478.6" r="3.4" fill="#f8c0a4"/>
<circle cx="1662.6" cy="432.3" r="3.4" fill="#fddbc7"/>
<circle cx="1665.7" cy="437.1" r="3.4" fill="#df755d"/>
<circle cx="1668.8" cy="462.1" r="3.4" fill="#f4a582"/>
<circle cx="1672.0" cy="469.6" r="3.4" fill="#e58268"/>
<circle cx="1675.1" cy="457.7" r="3.4" fill="#f4a582"/>
<circle cx="1678.2" cy="457.7" r="3.4" fill="#fbe3d5"/>
<circle cx="1681.4" cy="415.0" r="3.4" fill="#fbe3d5"/>
<circle cx="1684.5" cy="448.6" r="3.4" fill="#dceaf2"/>
<circle cx="1700.6" cy="355.7" r="3.4" fill="#b2182b"/>
<circle cx="1703.2" cy="324.8" r="3.4" fill="#e4eef4"/>
<circle cx="1705.9" cy="325.0" r="3.4" fill="#f4a582"/>
<circle cx="1708.5" cy="337.0" r="3.4" fill="#fbd0b9"/>
<circle cx="1711.1" cy="368.7" r="3.4" fill="#f7b597"/>
<circle cx="1713.7" cy="390.9" r="3.4" fill="#fbd0b9"/>
<circle cx="1716.3" cy="361.1" r="3.4" fill="#eb9072"/>
<circle cx="1719.0" cy="363.4" r="3.4" fill="#ecf2f5"/>
<circle cx="1721.6" cy="380.2" r="3.4" fill="#f4a582"/>
<circle cx="1724.2" cy="359.8" r="3.4" fill="#f4a582"/>
<circle cx="1726.8" cy="384.2" r="3.4" fill="#facbb2"/>
<circle cx="1729.4" cy="354.7" r="3.4" fill="#df755d"/>
<circle cx="1732.1" cy="366.1" r="3.4" fill="#fbe3d5"/>
<circle cx="1734.7" cy="368.2" r="3.4" fill="#e8f0f4"/>
<circle cx="1737.3" cy="379.8" r="3.4" fill="#f9ece4"/>
<circle cx="1739.9" cy="369.4" r="3.4" fill="#fce1d1"/>
<circle cx="1745.2" cy="310.5" r="3.4" fill="#e8f0f4"/>
<circle cx="1747.8" cy="324.7" r="3.4" fill="#dc6e58"/>
<circle cx="1750.4" cy="302.9" r="3.4" fill="#f7f7f7"/>
<circle cx="1753.0" cy="311.8" r="3.4" fill="#f7b597"/>
<circle cx="1755.6" cy="426.5" r="3.4" fill="#b2d5e7"/>
<circle cx="1758.3" cy="425.4" r="3.4" fill="#fbd0b9"/>
<circle cx="1760.9" cy="372.2" r="3.4" fill="#b2182b"/>
<circle cx="1763.5" cy="425.4" r="3.4" fill="#f7b597"/>
<circle cx="1766.1" cy="401.1" r="3.4" fill="#d9e9f1"/>
<circle cx="1768.7" cy="477.1" r="3.4" fill="#f8c0a4"/>
<circle cx="1771.4" cy="428.1" r="3.4" fill="#c4dfec"/>
<circle cx="1774.0" cy="408.8" r="3.4" fill="#df755d"/>
<circle cx="1776.6" cy="453.5" r="3.4" fill="#d6604d"/>
<circle cx="1779.2" cy="415.4" r="3.4" fill="#f4a582"/>
<circle cx="1781.8" cy="466.3" r="3.4" fill="#b2182b"/>
<circle cx="1784.5" cy="458.3" r="3.4" fill="#fbe3d5"/>
<circle cx="1787.1" cy="466.8" r="3.4" fill="#f4a582"/>
<circle cx="1789.7" cy="464.2" r="3.4" fill="#c4dfec"/>
<circle cx="1792.3" cy="452.5" r="3.4" fill="#dceaf2"/>
<circle cx="1794.9" cy="476.7" r="3.4" fill="#2166ac"/>
<circle cx="1797.6" cy="453.8" r="3.4" fill="#e4eef4"/>
<circle cx="1800.2" cy="494.0" r="3.4" fill="#5ba2cb"/>
<circle cx="1802.8" cy="460.6" r="3.4" fill="#c43c3c"/>
<circle cx="1805.4" cy="496.8" r="3.4" fill="#f4a582"/>
<circle cx="1808.0" cy="548.1" r="3.4" fill="#dc6e58"/>
<circle cx="1810.7" cy="506.7" r="3.4" fill="#b2182b"/>
<circle cx="1813.3" cy="451.4" r="3.4" fill="#67001f"/>
<circle cx="1815.9" cy="461.6" r="3.4" fill="#d6604d"/>
<circle cx="1818.5" cy="450.9" r="3.4" fill="#dc6e58"/>
<circle cx="1821.1" cy="443.0" r="3.4" fill="#2166ac"/>
<circle cx="1823.8" cy="448.6" r="3.4" fill="#195695"/>
<circle cx="1826.4" cy="483.4" r="3.4" fill="#195695"/>
<circle cx="1829.0" cy="464.7" r="3.4" fill="#053061"/>
<circle cx="1831.6" cy="475.4" r="3.4" fill="#c43c3c"/>
<circle cx="1834.2" cy="510.9" r="3.4" fill="#bd2e35"/>
<circle cx="1836.9" cy="508.4" r="3.4" fill="#f4a582"/>
<circle cx="1839.5" cy="485.4" r="3.4" fill="#f4a582"/>
<circle cx="1842.1" cy="514.3" r="3.4" fill="#dc6e58"/>
<circle cx="1844.7" cy="545.6" r="3.4" fill="#cf5246"/>
<circle cx="1847.3" cy="523.4" r="3.4" fill="#eb9072"/>
<circle cx="1850.0" cy="441.4" r="3.4" fill="#d6604d"/>
<circle cx="1852.6" cy="460.5" r="3.4" fill="#f4a582"/>
<circle cx="1855.2" cy="393.8" r="3.4" fill="#eb9072"/>
<circle cx="1857.8" cy="325.9" r="3.4" fill="#facbb2"/>
<circle cx="1860.4" cy="330.9" r="3.4" fill="#f9efe9"/>
<circle cx="1876.6" cy="438.8" r="3.4" fill="#dceaf2"/>
<circle cx="1884.6" cy="455.4" r="3.4" fill="#82bbd9"/>
<circle cx="1892.5" cy="452.8" r="3.4" fill="#82bbd9"/>
<circle cx="1900.5" cy="459.7" r="3.4" fill="#e8f0f4"/>
<circle cx="1908.5" cy="465.1" r="3.4" fill="#e8f0f4"/>
<circle cx="1916.5" cy="470.0" r="3.4" fill="#c4dfec"/>
<circle cx="1924.5" cy="461.4" r="3.4" fill="#6aacd0"/>
<circle cx="1932.5" cy="481.5" r="3.4" fill="#9fcbe2"/>
<circle cx="1940.5" cy="436.5" r="3.4" fill="#286fb1"/>
<circle cx="1948.5" cy="443.9" r="3.4" fill="#abd2e5"/>
<circle cx="1956.5" cy="448.0" r="3.4" fill="#3c8abe"/>
<circle cx="1964.5" cy="473.6" r="3.4" fill="#b2d5e7"/>
<circle cx="1972.5" cy="473.4" r="3.4" fill="#d1e5f0"/>
<circle cx="1980.4" cy="480.9" r="3.4" fill="#0d4078"/>
<circle cx="1988.4" cy="507.5" r="3.4" fill="#053061"/>
<circle cx="1996.4" cy="478.2" r="3.4" fill="#5ba2cb"/>
<circle cx="2004.4" cy="428.7" r="3.4" fill="#c4dfec"/>
<circle cx="2012.4" cy="472.1" r="3.4" fill="#5ba2cb"/>
<circle cx="2020.4" cy="398.9" r="3.4" fill="#d1e5f0"/>
<circle cx="2028.4" cy="427.5" r="3.4" fill="#ecf2f5"/>
<circle cx="2036.4" cy="427.5" r="3.4" fill="#67001f"/>
<circle cx="2052.5" cy="378.6" r="3.4" fill="#a5cfe3"/>
<circle cx="2056.9" cy="392.2" r="3.4" fill="#a5cfe3"/>
<circle cx="2061.4" cy="436.3" r="3.4" fill="#fddbc7"/>
<circle cx="2065.8" cy="434.6" r="3.4" fill="#f4a582"/>
<circle cx="2070.3" cy="441.8" r="3.4" fill="#e4eef4"/>
<circle cx="2074.7" cy="462.1" r="3.4" fill="#b2d5e7"/>
<circle cx="2079.1" cy="457.6" r="3.4" fill="#d1e5f0"/>
<circle cx="2083.6" cy="451.0" r="3.4" fill="#f8c0a4"/>
<circle cx="2088.0" cy="444.5" r="3.4" fill="#f9c5ab"/>
<circle cx="2092.5" cy="440.2" r="3.4" fill="#f8c0a4"/>
<circle cx="2096.9" cy="461.3" r="3.4" fill="#f7f7f7"/>
<circle cx="2101.3" cy="448.7" r="3.4" fill="#6aacd0"/>
<circle cx="2105.8" cy="439.1" r="3.4" fill="#c4dfec"/>
<circle cx="2110.2" cy="466.6" r="3.4" fill="#c4dfec"/>
<circle cx="2114.7" cy="460.2" r="3.4" fill="#c4dfec"/>
<circle cx="2119.1" cy="453.7" r="3.4" fill="#053061"/>
<circle cx="2123.5" cy="472.4" r="3.4" fill="#3c8abe"/>
<circle cx="2128.0" cy="472.4" r="3.4" fill="#2b74b3"/>
<circle cx="2132.4" cy="471.1" r="3.4" fill="#327cb8"/>
<circle cx="2136.8" cy="474.6" r="3.4" fill="#0d4078"/>
<circle cx="2141.3" cy="470.5" r="3.4" fill="#fddbc7"/>
<circle cx="2145.7" cy="477.8" r="3.4" fill="#a31329"/>
<circle cx="2150.2" cy="455.5" r="3.4" fill="#67001f"/>
<circle cx="2154.6" cy="453.3" r="3.4" fill="#d6604d"/>
<circle cx="2159.0" cy="496.3" r="3.4" fill="#ee9777"/>
<circle cx="2163.5" cy="484.7" r="3.4" fill="#f4a582"/>
<circle cx="2167.9" cy="478.0" r="3.4" fill="#d6604d"/>
<circle cx="2172.4" cy="475.7" r="3.4" fill="#bd2e35"/>
<circle cx="2176.8" cy="497.1" r="3.4" fill="#d1e5f0"/>
<circle cx="2181.2" cy="517.4" r="3.4" fill="#d9e9f1"/>
<circle cx="2185.7" cy="493.9" r="3.4" fill="#d9e9f1"/>
<circle cx="2190.1" cy="506.7" r="3.4" fill="#dceaf2"/>
<circle cx="2194.6" cy="457.1" r="3.4" fill="#fddbc7"/>
<circle cx="2199.0" cy="453.2" r="3.4" fill="#92c5de"/>
<circle cx="2203.4" cy="433.5" r="3.4" fill="#eb9072"/>
<circle cx="2207.9" cy="426.1" r="3.4" fill="#f9ece4"/>
<circle cx="2212.3" cy="416.9" r="3.4" fill="#b2d5e7"/>
<circle cx="2228.5" cy="408.6" r="3.4" fill="#b2182b"/>
<circle cx="2232.1" cy="389.8" r="3.4" fill="#a31329"/>
<circle cx="2235.7" cy="413.1" r="3.4" fill="#cb4a43"/>
<circle cx="2239.3" cy="444.7" r="3.4" fill="#cb4a43"/>
<circle cx="2243.0" cy="481.8" r="3.4" fill="#f4a582"/>
<circle cx="2246.6" cy="463.5" r="3.4" fill="#dceaf2"/>
<circle cx="2250.2" cy="453.0" r="3.4" fill="#f7b597"/>
<circle cx="2253.9" cy="425.0" r="3.4" fill="#fce1d1"/>
<circle cx="2257.5" cy="413.6" r="3.4" fill="#a31329"/>
<circle cx="2261.1" cy="456.8" r="3.4" fill="#a31329"/>
<circle cx="2264.8" cy="445.8" r="3.4" fill="#7e0723"/>
<circle cx="2268.4" cy="458.1" r="3.4" fill="#f4a582"/>
<circle cx="2272.0" cy="469.2" r="3.4" fill="#053061"/>
<circle cx="2275.7" cy="479.4" r="3.4" fill="#d1e5f0"/>
<circle cx="2279.3" cy="473.8" r="3.4" fill="#e4eef4"/>
<circle cx="2282.9" cy="459.5" r="3.4" fill="#f4a582"/>
<circle cx="2286.6" cy="478.0" r="3.4" fill="#d6604d"/>
<circle cx="2290.2" cy="476.4" r="3.4" fill="#f4a582"/>
<circle cx="2293.8" cy="467.6" r="3.4" fill="#bd2e35"/>
<circle cx="2297.5" cy="499.3" r="3.4" fill="#cf5246"/>
<circle cx="2301.1" cy="485.6" r="3.4" fill="#cb4a43"/>
<circle cx="2304.7" cy="493.3" r="3.4" fill="#cb4a43"/>
<circle cx="2308.4" cy="514.8" r="3.4" fill="#e58268"/>
<circle cx="2312.0" cy="504.5" r="3.4" fill="#eb9072"/>
<circle cx="2315.6" cy="503.0" r="3.4" fill="#f7b597"/>
<circle cx="2319.2" cy="517.9" r="3.4" fill="#f8c0a4"/>
<circle cx="2322.9" cy="490.7" r="3.4" fill="#b92632"/>
<circle cx="2326.5" cy="484.7" r="3.4" fill="#cb4a43"/>
<circle cx="2330.1" cy="484.7" r="3.4" fill="#cb4a43"/>
<circle cx="2333.8" cy="509.7" r="3.4" fill="#cb4a43"/>
<circle cx="2337.4" cy="490.6" r="3.4" fill="#f7b597"/>
<circle cx="2341.0" cy="461.3" r="3.4" fill="#e58268"/>
<circle cx="2344.7" cy="481.8" r="3.4" fill="#d1e5f0"/>
<circle cx="2348.3" cy="453.8" r="3.4" fill="#a5cfe3"/>
<circle cx="2351.9" cy="446.7" r="3.4" fill="#fce1d1"/>
<circle cx="2355.6" cy="447.4" r="3.4" fill="#b2182b"/>
<circle cx="2359.2" cy="450.9" r="3.4" fill="#b2182b"/>
<circle cx="2362.8" cy="448.3" r="3.4" fill="#b2182b"/>
<circle cx="2366.5" cy="437.3" r="3.4" fill="#67001f"/>
<circle cx="2370.1" cy="453.1" r="3.4" fill="#fce1d1"/>
<circle cx="2373.7" cy="429.2" r="3.4" fill="#b2182b"/>
<circle cx="2377.4" cy="447.4" r="3.4" fill="#d6604d"/>
<circle cx="2381.0" cy="429.5" r="3.4" fill="#f8c0a4"/>
<circle cx="2384.6" cy="439.7" r="3.4" fill="#ee9777"/>
<circle cx="2388.3" cy="420.5" r="3.4" fill="#c43c3c"/>
</g>
<polyline points="1348.8,545.5 1352.1,546.7 1355.4,547.9 1358.7,547.9 1362.1,547.9 1365.4,546.6 1368.7,546.8 1372.1,545.5 1375.4,545.8 1378.7,546.9 1382.0,545.9 1385.4,544.4 1388.7,542.9 1392.0,539.6 1395.4,538.1 1398.7,536.6 1402.0,544.3 1405.3,544.1 1408.7,543.9 1412.0,547.1 1415.3,545.7 1418.7,544.3 1422.0,542.9 1425.3,537.5 1428.7,538.2 1432.0,538.9 1435.3,536.6 1438.6,534.3 1442.0,527.0 1445.3,528.2 1448.6,529.5 1452.0,530.7 1455.3,532.0 1458.6,533.2 1461.9,533.1 1465.3,533.0 1468.6,532.9 1471.9,536.2 1475.3,537.9 1478.6,539.6 1481.9,541.3 1485.2,545.3 1488.6,546.7 1491.9,548.0 1495.2,548.0 1498.6,548.0 1501.9,548.0 1505.2,547.4 1508.6,546.8" fill="none" stroke="#1f77b4" stroke-width="1.6" stroke-linejoin="round" stroke-linecap="square"/>
<polyline points="1524.7,547.2 1527.8,542.5 1531.0,544.3 1534.1,544.3 1537.2,544.3 1540.4,544.3 1543.5,531.5 1546.6,531.9 1549.8,532.3 1552.9,532.8 1556.0,532.7 1559.2,532.6 1562.3,532.6 1565.4,532.5 1568.6,532.4 1571.7,532.4 1574.8,532.3 1578.0,534.9 1581.1,534.9 1584.2,551.0 1587.4,549.7 1590.5,547.5 1593.6,546.7 1596.8,547.9 1599.9,546.8 1603.0,540.3 1606.2,539.5 1609.3,538.2 1612.4,539.0 1615.6,538.8 1618.7,542.2 1621.8,544.3 1625.0,544.3 1628.1,545.4 1631.2,547.9 1634.4,547.8 1637.5,547.2 1640.6,546.7 1643.8,545.4 1646.9,544.1 1650.0,542.7 1653.2,547.8 1656.3,547.9 1659.4,546.8 1662.6,547.9 1665.7,547.3 1668.8,546.8 1672.0,546.7 1675.1,545.4 1678.2,545.5 1681.4,545.5 1684.5,545.6" fill="none" stroke="#1f77b4" stroke-width="1.6" stroke-linejoin="round" stroke-linecap="square"/>
<polyline points="1700.6,542.7 1703.2,547.8 1705.9,546.7 1708.5,545.4 1711.1,544.2 1713.7,542.9 1716.3,544.3 1719.0,544.3 1721.6,544.3 1724.2,544.3 1726.8,544.3 1729.4,545.6 1732.1,545.6 1734.7,545.6 1737.3,544.3 1739.9,544.3 1742.5,546.8 1745.2,547.0 1747.8,547.9 1750.4,547.9 1753.0,547.9 1755.6,539.8 1758.3,538.1 1760.9,536.3 1763.5,534.1 1766.1,531.5 1768.7,525.6 1771.4,526.9 1774.0,529.3 1776.6,531.7 1779.2,534.1 1781.8,535.3 1784.5,536.5 1787.1,536.5 1789.7,536.5 1792.3,536.5 1794.9,536.5 1797.6,538.2 1800.2,539.8 1802.8,540.6 1805.4,536.0 1808.0,538.1 1810.7,541.1 1813.3,555.4 1815.9,555.6 1818.5,554.3 1821.1,554.0 1823.8,553.7 1826.4,552.7 1829.0,551.8 1831.6,544.5 1834.2,546.4 1836.9,548.3 1839.5,549.6 1842.1,551.0 1844.7,538.4 1847.3,535.6 1850.0,532.8 1852.6,533.6 1855.2,534.5 1857.8,545.4 1860.4,547.0" fill="none" stroke="#1f77b4" stroke-width="1.6" stroke-linejoin="round" stroke-linecap="square"/>
<polyline points="1876.6,449.8 1884.6,455.2 1892.5,455.0 1900.5,456.8 1908.5,457.9 1916.5,467.5 1924.5,467.5 1932.5,486.5 1940.5,485.4 1948.5,497.0 1956.5,489.0 1964.5,498.4 1972.5,483.1 1980.4,467.8 1988.4,467.5 1996.4,460.3 2004.4,457.6 2012.4,456.0 2020.4,446.4 2028.4,446.9 2036.4,446.9" fill="none" stroke="#1f77b4" stroke-width="1.6" stroke-linejoin="round" stroke-linecap="square"/>
<polyline points="2052.5,450.6 2056.9,464.9 2061.4,465.7 2065.8,466.5 2070.3,472.7 2074.7,472.7 2079.1,495.5 2083.6,495.5 2088.0,491.1 2092.5,451.7 2096.9,450.9 2101.3,448.8 2105.8,444.5 2110.2,444.2 2114.7,442.7 2119.1,428.4 2123.5,428.4 2128.0,425.1 2132.4,421.8 2136.8,385.0 2141.3,379.7 2145.7,376.1 2150.2,371.1 2154.6,351.6 2159.0,356.1 2163.5,360.1 2167.9,362.0 2172.4,401.4 2176.8,401.6 2181.2,404.8 2185.7,407.7 2190.1,451.5 2194.6,456.3 2199.0,457.4 2203.4,453.1 2207.9,448.8 2212.3,441.1" fill="none" stroke="#1f77b4" stroke-width="1.6" stroke-linejoin="round" stroke-linecap="square"/>
<polyline points="2228.5,442.9 2232.1,446.7 2235.7,450.4 2239.3,453.1 2243.0,455.0 2246.6,456.8 2250.2,472.9 2253.9,474.8 2257.5,477.0 2261.1,495.7 2264.8,489.8 2268.4,443.4 2272.0,428.4 2275.7,426.1 2279.3,424.7 2282.9,401.6 2286.6,398.6 2290.2,396.3 2293.8,371.1 2297.5,363.0 2301.1,356.8 2304.7,355.0 2308.4,351.6 2312.0,351.5 2315.6,352.3 2319.2,354.5 2322.9,371.1 2326.5,371.1 2330.1,373.8 2333.8,376.7 2337.4,378.0 2341.0,412.7 2344.7,415.2 2348.3,417.9 2351.9,442.0 2355.6,444.5 2359.2,446.4 2362.8,449.0 2366.5,464.9 2370.1,461.7 2373.7,458.8 2377.4,458.7 2381.0,452.5 2384.6,450.7 2388.3,448.6" fill="none" stroke="#1f77b4" stroke-width="1.6" stroke-linejoin="round" stroke-linecap="square"/>
<path d="M1340.90,305.45H2399.94M2396.54,305.45V581.55H1340.90V305.45M1516.84,305.45V581.55M1692.78,305.45V581.55M1868.72,305.45V581.55M2044.66,305.45V581.55M2220.60,305.45V581.55M1337.50,329.10H1340.90M1337.50,389.18H1340.90M1337.50,449.26H1340.90M1337.50,509.34H1340.90M1337.50,569.42H1340.90M1516.84,340.65h3.4M1516.84,376.32h3.4M1516.84,411.99h3.4M1516.84,447.66h3.4M1516.84,483.33h3.4M1516.84,519.00h3.4M1516.84,554.67h3.4M1513.44,329.10H1516.84M1513.44,389.18H1516.84M1513.44,449.26H1516.84M1513.44,509.34H1516.84M1513.44,569.42H1516.84M1692.78,340.65h3.4M1692.78,376.32h3.4M1692.78,411.99h3.4M1692.78,447.66h3.4M1692.78,483.33h3.4M1692.78,519.00h3.4M1692.78,554.67h3.4M1689.38,329.10H1692.78M1689.38,389.18H1692.78M1689.38,449.26H1692.78M1689.38,509.34H1692.78M1689.38,569.42H1692.78M1868.72,340.65h3.4M1868.72,376.32h3.4M1868.72,411.99h3.4M1868.72,447.66h3.4M1868.72,483.33h3.4M1868.72,519.00h3.4M1868.72,554.67h3.4M1865.32,329.10H1868.72M1865.32,389.18H1868.72M1865.32,449.26H1868.72M1865.32,509.34H1868.72M1865.32,569.42H1868.72M2044.66,340.65h3.4M2044.66,376.32h3.4M2044.66,411.99h3.4M2044.66,447.66h3.4M2044.66,483.33h3.4M2044.66,519.00h3.4M2044.66,554.67h3.4M2041.26,329.10H2044.66M2041.26,389.18H2044.66M2041.26,449.26H2044.66M2041.26,509.34H2044.66M2041.26,569.42H2044.66M2220.60,340.65h3.4M2220.60,376.32h3.4M2220.60,411.99h3.4M2220.60,447.66h3.4M2220.60,483.33h3.4M2220.60,519.00h3.4M2220.60,554.67h3.4M2217.20,329.10H2220.60M2217.20,389.18H2220.60M2217.20,449.26H2220.60M2217.20,509.34H2220.60M2217.20,569.42H2220.60M2396.54,340.65h3.4M2396.54,376.32h3.4M2396.54,411.99h3.4M2396.54,447.66h3.4M2396.54,483.33h3.4M2396.54,519.00h3.4M2396.54,554.67h3.4" fill="none" stroke="#444" stroke-width="1.3"/>
<text transform="translate(1333.90,332.85) scale(1,1.07)" text-anchor="end">1.5</text>
<text transform="translate(1333.90,392.93) scale(1,1.07)" text-anchor="end">1.0</text>
<text transform="translate(1333.90,453.01) scale(1,1.07)" text-anchor="end">0.5</text>
<text transform="translate(1333.90,513.09) scale(1,1.07)" text-anchor="end">0.0</text>
<text transform="translate(1333.90,573.17) scale(1,1.07)" text-anchor="end">−0.5</text>
<text transform="translate(1428.57,593.25) scale(1,1.07)" text-anchor="middle">May 2004 (BA1)</text>
<text transform="translate(1604.51,593.25) scale(1,1.07)" text-anchor="middle">Sept. 2004 (BA2)</text>
<text transform="translate(1780.45,593.25) scale(1,1.07)" text-anchor="middle">April 2005 (BA3)</text>
<text transform="translate(1956.39,593.25) scale(1,1.07)" text-anchor="middle">July 2006 (BA4)</text>
<text transform="translate(2132.33,593.25) scale(1,1.07)" text-anchor="middle">August 2007 (BA5)</text>
<text transform="translate(2308.27,593.25) scale(1,1.07)" text-anchor="middle">August 2008 (BA6)</text>
<text transform="translate(1304.50,443.20) rotate(-90) scale(1.07,1)" text-anchor="middle">log(TChl a) [<tspan font-style="italic">mg</tspan>/<tspan font-style="italic">m</tspan><tspan font-size="6.61" dy="-3.4">3</tspan><tspan dy="3.4">]</tspan></text>
<text transform="translate(2417.20,442.10) rotate(-90) scale(1.07,1)" text-anchor="middle">Latitude (N)</text>
<text transform="translate(2380.70,326.95) scale(1,1.07)" text-anchor="middle" font-size="11.4">(bb)</text>
<rect x="2437.2" y="316.40" width="27.60" height="250.60" fill="url(#rdbu)" stroke="#1a1a1a" stroke-width="1.1"/>
<path d="M2464.8,327.50h3.6M2464.8,356.61h3.6M2464.8,385.72h3.6M2464.8,414.83h3.6M2464.8,443.94h3.6M2464.8,473.05h3.6M2464.8,502.16h3.6M2464.8,531.27h3.6M2464.8,560.38h3.6" fill="none" stroke="#444" stroke-width="1.3"/>
<text transform="translate(2471.40,331.25) scale(1,1.07)">2.0</text>
<text transform="translate(2471.40,360.36) scale(1,1.07)">1.5</text>
<text transform="translate(2471.40,389.47) scale(1,1.07)">1.0</text>
<text transform="translate(2471.40,418.58) scale(1,1.07)">0.5</text>
<text transform="translate(2471.40,447.69) scale(1,1.07)">0.0</text>
<text transform="translate(2471.40,476.80) scale(1,1.07)">−0.5</text>
<text transform="translate(2471.40,505.91) scale(1,1.07)">−1.0</text>
<text transform="translate(2471.40,535.02) scale(1,1.07)">−1.5</text>
<text transform="translate(2471.40,564.13) scale(1,1.07)">−2.0</text>
</g>
<g id="row2">
<g stroke="none" clip-path="url(#cl2)">
<circle cx="1348.8" cy="751.0" r="3.4" fill="#8c0c25"/>
<circle cx="1352.1" cy="746.9" r="3.4" fill="#a31329"/>
<circle cx="1355.4" cy="735.7" r="3.4" fill="#fbd0b9"/>
<circle cx="1358.7" cy="675.6" r="3.4" fill="#c4dfec"/>
<circle cx="1362.1" cy="663.8" r="3.4" fill="#82bbd9"/>
<circle cx="1365.4" cy="735.1" r="3.4" fill="#dc6e58"/>
<circle cx="1368.7" cy="737.8" r="3.4" fill="#cf5246"/>
<circle cx="1372.1" cy="775.1" r="3.4" fill="#b2182b"/>
<circle cx="1375.4" cy="746.2" r="3.4" fill="#cf5246"/>
<circle cx="1378.7" cy="758.5" r="3.4" fill="#940e26"/>
<circle cx="1382.0" cy="781.6" r="3.4" fill="#cf5246"/>
<circle cx="1385.4" cy="794.1" r="3.4" fill="#850a24"/>
<circle cx="1388.7" cy="761.5" r="3.4" fill="#67001f"/>
<circle cx="1392.0" cy="781.3" r="3.4" fill="#b92632"/>
<circle cx="1395.4" cy="733.2" r="3.4" fill="#7e0723"/>
<circle cx="1398.7" cy="781.9" r="3.4" fill="#d6604d"/>
<circle cx="1402.0" cy="806.8" r="3.4" fill="#dc6e58"/>
<circle cx="1405.3" cy="775.7" r="3.4" fill="#b92632"/>
<circle cx="1408.7" cy="774.4" r="3.4" fill="#b2182b"/>
<circle cx="1412.0" cy="779.4" r="3.4" fill="#bd2e35"/>
<circle cx="1415.3" cy="766.0" r="3.4" fill="#e58268"/>
<circle cx="1418.7" cy="797.1" r="3.4" fill="#c43c3c"/>
<circle cx="1422.0" cy="788.0" r="3.4" fill="#d6604d"/>
<circle cx="1425.3" cy="825.2" r="3.4" fill="#b92632"/>
<circle cx="1428.7" cy="826.1" r="3.4" fill="#8c0c25"/>
<circle cx="1432.0" cy="838.6" r="3.4" fill="#fddbc7"/>
<circle cx="1435.3" cy="824.8" r="3.4" fill="#d6604d"/>
<circle cx="1438.6" cy="785.3" r="3.4" fill="#fddbc7"/>
<circle cx="1442.0" cy="753.4" r="3.4" fill="#f8c0a4"/>
<circle cx="1445.3" cy="764.6" r="3.4" fill="#f7b597"/>
<circle cx="1448.6" cy="760.9" r="3.4" fill="#dc6e58"/>
<circle cx="1452.0" cy="761.7" r="3.4" fill="#dc6e58"/>
<circle cx="1455.3" cy="792.6" r="3.4" fill="#f8c0a4"/>
<circle cx="1458.6" cy="813.5" r="3.4" fill="#f8c0a4"/>
<circle cx="1461.9" cy="823.8" r="3.4" fill="#dc6e58"/>
<circle cx="1465.3" cy="845.4" r="3.4" fill="#f8c0a4"/>
<circle cx="1468.6" cy="833.2" r="3.4" fill="#dceaf2"/>
<circle cx="1471.9" cy="828.7" r="3.4" fill="#f4a582"/>
<circle cx="1475.3" cy="881.3" r="3.4" fill="#dc6e58"/>
<circle cx="1478.6" cy="868.4" r="3.4" fill="#c43c3c"/>
<circle cx="1481.9" cy="852.3" r="3.4" fill="#f7b597"/>
<circle cx="1485.2" cy="781.0" r="3.4" fill="#f4a582"/>
<circle cx="1488.6" cy="782.3" r="3.4" fill="#cf5246"/>
<circle cx="1491.9" cy="791.8" r="3.4" fill="#cf5246"/>
<circle cx="1495.2" cy="721.5" r="3.4" fill="#053061"/>
<circle cx="1498.6" cy="731.8" r="3.4" fill="#327cb8"/>
<circle cx="1501.9" cy="739.5" r="3.4" fill="#92c5de"/>
<circle cx="1505.2" cy="707.9" r="3.4" fill="#2166ac"/>
<circle cx="1508.6" cy="790.7" r="3.4" fill="#d6604d"/>
<circle cx="1524.7" cy="743.9" r="3.4" fill="#f7b597"/>
<circle cx="1527.8" cy="792.0" r="3.4" fill="#c43c3c"/>
<circle cx="1531.0" cy="766.1" r="3.4" fill="#df755d"/>
<circle cx="1534.1" cy="759.2" r="3.4" fill="#fddbc7"/>
<circle cx="1537.2" cy="746.8" r="3.4" fill="#fddbc7"/>
<circle cx="1540.4" cy="776.7" r="3.4" fill="#f9ece4"/>
<circle cx="1543.5" cy="801.1" r="3.4" fill="#f4a582"/>
<circle cx="1546.6" cy="793.2" r="3.4" fill="#fbe3d5"/>
<circle cx="1549.8" cy="796.4" r="3.4" fill="#eb9072"/>
<circle cx="1552.9" cy="799.9" r="3.4" fill="#df755d"/>
<circle cx="1556.0" cy="825.4" r="3.4" fill="#f4a582"/>
<circle cx="1559.2" cy="809.3" r="3.4" fill="#f7b597"/>
<circle cx="1562.3" cy="827.2" r="3.4" fill="#b92632"/>
<circle cx="1565.4" cy="826.2" r="3.4" fill="#d6604d"/>
<circle cx="1568.6" cy="827.0" r="3.4" fill="#f4a582"/>
<circle cx="1571.7" cy="819.5" r="3.4" fill="#f4a582"/>
<circle cx="1574.8" cy="820.6" r="3.4" fill="#f4a582"/>
<circle cx="1578.0" cy="831.0" r="3.4" fill="#f4a582"/>
<circle cx="1581.1" cy="831.5" r="3.4" fill="#df755d"/>
<circle cx="1584.2" cy="777.1" r="3.4" fill="#92c5de"/>
<circle cx="1587.4" cy="800.5" r="3.4" fill="#d6604d"/>
<circle cx="1590.5" cy="793.2" r="3.4" fill="#f4a582"/>
<circle cx="1593.6" cy="800.5" r="3.4" fill="#fbe3d5"/>
<circle cx="1596.8" cy="797.8" r="3.4" fill="#df755d"/>
<circle cx="1599.9" cy="747.7" r="3.4" fill="#d6604d"/>
<circle cx="1603.0" cy="750.7" r="3.4" fill="#67001f"/>
<circle cx="1606.2" cy="760.0" r="3.4" fill="#d6604d"/>
<circle cx="1609.3" cy="789.3" r="3.4" fill="#facbb2"/>
<circle cx="1612.4" cy="775.0" r="3.4" fill="#a5cfe3"/>
<circle cx="1615.6" cy="774.7" r="3.4" fill="#d1e5f0"/>
<circle cx="1618.7" cy="753.0" r="3.4" fill="#fddbc7"/>
<circle cx="1621.8" cy="750.9" r="3.4" fill="#f9c5ab"/>
<circle cx="1625.0" cy="756.2" r="3.4" fill="#f8c0a4"/>
<circle cx="1628.1" cy="749.8" r="3.4" fill="#d1e5f0"/>
<circle cx="1631.2" cy="742.3" r="3.4" fill="#9fcbe2"/>
<circle cx="1634.4" cy="708.6" r="3.4" fill="#2b74b3"/>
<circle cx="1637.5" cy="760.0" r="3.4" fill="#fbe3d5"/>
<circle cx="1640.6" cy="766.8" r="3.4" fill="#f4a582"/>
<circle cx="1643.8" cy="759.8" r="3.4" fill="#f7b597"/>
<circle cx="1646.9" cy="744.7" r="3.4" fill="#c4dfec"/>
<circle cx="1650.0" cy="762.5" r="3.4" fill="#d1e5f0"/>
<circle cx="1653.2" cy="644.4" r="3.4" fill="#0d4078"/>
<circle cx="1656.3" cy="718.1" r="3.4" fill="#5ba2cb"/>
<circle cx="1659.4" cy="782.7" r="3.4" fill="#fddbc7"/>
<circle cx="1662.6" cy="736.4" r="3.4" fill="#3c8abe"/>
<circle cx="1665.7" cy="741.2" r="3.4" fill="#3c8abe"/>
<circle cx="1668.8" cy="766.2" r="3.4" fill="#fddbc7"/>
<circle cx="1672.0" cy="773.7" r="3.4" fill="#f9ece4"/>
<circle cx="1675.1" cy="761.8" r="3.4" fill="#fbe3d5"/>
<circle cx="1678.2" cy="761.8" r="3.4" fill="#facbb2"/>
<circle cx="1681.4" cy="719.1" r="3.4" fill="#327cb8"/>
<circle cx="1684.5" cy="752.7" r="3.4" fill="#053061"/>
<circle cx="1700.6" cy="659.8" r="3.4" fill="#760521"/>
<circle cx="1703.2" cy="628.9" r="3.4" fill="#f8c0a4"/>
<circle cx="1705.9" cy="629.1" r="3.4" fill="#c43c3c"/>
<circle cx="1708.5" cy="641.1" r="3.4" fill="#b92632"/>
<circle cx="1711.1" cy="672.8" r="3.4" fill="#cb4a43"/>
<circle cx="1713.7" cy="695.0" r="3.4" fill="#cb4a43"/>
<circle cx="1716.3" cy="665.2" r="3.4" fill="#b92632"/>
<circle cx="1719.0" cy="667.5" r="3.4" fill="#cf5246"/>
<circle cx="1721.6" cy="684.3" r="3.4" fill="#b92632"/>
<circle cx="1724.2" cy="663.9" r="3.4" fill="#b2182b"/>
<circle cx="1726.8" cy="688.3" r="3.4" fill="#cb4a43"/>
<circle cx="1729.4" cy="658.8" r="3.4" fill="#b92632"/>
<circle cx="1732.1" cy="670.2" r="3.4" fill="#b2182b"/>
<circle cx="1734.7" cy="672.3" r="3.4" fill="#b92632"/>
<circle cx="1737.3" cy="683.9" r="3.4" fill="#b2182b"/>
<circle cx="1739.9" cy="673.5" r="3.4" fill="#b2182b"/>
<circle cx="1745.2" cy="614.6" r="3.4" fill="#eb9072"/>
<circle cx="1747.8" cy="628.8" r="3.4" fill="#dc6e58"/>
<circle cx="1750.4" cy="607.0" r="3.4" fill="#f7b597"/>
<circle cx="1753.0" cy="615.9" r="3.4" fill="#e58268"/>
<circle cx="1755.6" cy="730.6" r="3.4" fill="#f4a582"/>
<circle cx="1758.3" cy="729.5" r="3.4" fill="#bd2e35"/>
<circle cx="1760.9" cy="676.3" r="3.4" fill="#67001f"/>
<circle cx="1763.5" cy="729.5" r="3.4" fill="#b2182b"/>
<circle cx="1766.1" cy="705.2" r="3.4" fill="#b2182b"/>
<circle cx="1768.7" cy="781.2" r="3.4" fill="#c43c3c"/>
<circle cx="1771.4" cy="732.2" r="3.4" fill="#d6604d"/>
<circle cx="1774.0" cy="712.9" r="3.4" fill="#940e26"/>
<circle cx="1776.6" cy="757.6" r="3.4" fill="#8c0c25"/>
<circle cx="1779.2" cy="719.5" r="3.4" fill="#b2182b"/>
<circle cx="1781.8" cy="770.4" r="3.4" fill="#cb4a43"/>
<circle cx="1784.5" cy="762.4" r="3.4" fill="#f8c0a4"/>
<circle cx="1787.1" cy="770.9" r="3.4" fill="#f8c0a4"/>
<circle cx="1789.7" cy="768.3" r="3.4" fill="#fddbc7"/>
<circle cx="1792.3" cy="756.6" r="3.4" fill="#eb9072"/>
<circle cx="1794.9" cy="780.8" r="3.4" fill="#d1e5f0"/>
<circle cx="1797.6" cy="757.9" r="3.4" fill="#eb9072"/>
<circle cx="1800.2" cy="798.1" r="3.4" fill="#f9ece4"/>
<circle cx="1802.8" cy="764.7" r="3.4" fill="#b2182b"/>
<circle cx="1805.4" cy="800.9" r="3.4" fill="#b2182b"/>
<circle cx="1808.0" cy="852.2" r="3.4" fill="#fbd0b9"/>
<circle cx="1810.7" cy="810.8" r="3.4" fill="#f4a582"/>
<circle cx="1813.3" cy="755.5" r="3.4" fill="#c4dfec"/>
<circle cx="1815.9" cy="765.7" r="3.4" fill="#bedbeb"/>
<circle cx="1818.5" cy="755.0" r="3.4" fill="#a5cfe3"/>
<circle cx="1821.1" cy="747.1" r="3.4" fill="#4393c3"/>
<circle cx="1823.8" cy="752.7" r="3.4" fill="#195695"/>
<circle cx="1826.4" cy="787.5" r="3.4" fill="#539dc8"/>
<circle cx="1829.0" cy="768.8" r="3.4" fill="#bedbeb"/>
<circle cx="1831.6" cy="779.5" r="3.4" fill="#a31329"/>
<circle cx="1834.2" cy="815.0" r="3.4" fill="#b2182b"/>
<circle cx="1836.9" cy="812.5" r="3.4" fill="#fbd0b9"/>
<circle cx="1839.5" cy="789.5" r="3.4" fill="#f4a582"/>
<circle cx="1842.1" cy="818.4" r="3.4" fill="#053061"/>
<circle cx="1844.7" cy="849.7" r="3.4" fill="#c4dfec"/>
<circle cx="1847.3" cy="827.5" r="3.4" fill="#fddbc7"/>
<circle cx="1850.0" cy="745.5" r="3.4" fill="#b2182b"/>
<circle cx="1852.6" cy="764.6" r="3.4" fill="#e58268"/>
<circle cx="1855.2" cy="697.9" r="3.4" fill="#bd2e35"/>
<circle cx="1857.8" cy="630.0" r="3.4" fill="#eb9072"/>
<circle cx="1860.4" cy="635.0" r="3.4" fill="#f4a582"/>
<circle cx="1876.6" cy="742.9" r="3.4" fill="#d6604d"/>
<circle cx="1884.6" cy="759.5" r="3.4" fill="#f4a582"/>
<circle cx="1892.5" cy="756.9" r="3.4" fill="#f8c0a4"/>
<circle cx="1900.5" cy="763.8" r="3.4" fill="#850a24"/>
<circle cx="1908.5" cy="769.2" r="3.4" fill="#b2182b"/>
<circle cx="1916.5" cy="774.1" r="3.4" fill="#f4a582"/>
<circle cx="1924.5" cy="765.5" r="3.4" fill="#f8c0a4"/>
<circle cx="1932.5" cy="785.6" r="3.4" fill="#d6604d"/>
<circle cx="1940.5" cy="740.6" r="3.4" fill="#facbb2"/>
<circle cx="1948.5" cy="748.0" r="3.4" fill="#d6604d"/>
<circle cx="1956.5" cy="752.1" r="3.4" fill="#f9c5ab"/>
<circle cx="1964.5" cy="777.7" r="3.4" fill="#dc6e58"/>
<circle cx="1972.5" cy="777.5" r="3.4" fill="#fddbc7"/>
<circle cx="1980.4" cy="785.0" r="3.4" fill="#df755d"/>
<circle cx="1988.4" cy="811.6" r="3.4" fill="#b2182b"/>
<circle cx="1996.4" cy="782.3" r="3.4" fill="#facbb2"/>
<circle cx="2004.4" cy="732.8" r="3.4" fill="#dc6e58"/>
<circle cx="2012.4" cy="776.2" r="3.4" fill="#f4a582"/>
<circle cx="2020.4" cy="703.0" r="3.4" fill="#b2182b"/>
<circle cx="2028.4" cy="731.6" r="3.4" fill="#67001f"/>
<circle cx="2036.4" cy="731.6" r="3.4" fill="#053061"/>
<circle cx="2052.5" cy="682.7" r="3.4" fill="#a31329"/>
<circle cx="2056.9" cy="696.3" r="3.4" fill="#cb4a43"/>
<circle cx="2061.4" cy="740.4" r="3.4" fill="#bd2e35"/>
<circle cx="2065.8" cy="738.7" r="3.4" fill="#760521"/>
<circle cx="2070.3" cy="745.9" r="3.4" fill="#7e0723"/>
<circle cx="2074.7" cy="766.2" r="3.4" fill="#f8c0a4"/>
<circle cx="2079.1" cy="761.7" r="3.4" fill="#fddbc7"/>
<circle cx="2083.6" cy="755.1" r="3.4" fill="#760521"/>
<circle cx="2088.0" cy="748.6" r="3.4" fill="#a31329"/>
<circle cx="2092.5" cy="744.3" r="3.4" fill="#760521"/>
<circle cx="2096.9" cy="765.4" r="3.4" fill="#f4a582"/>
<circle cx="2101.3" cy="752.8" r="3.4" fill="#dc6e58"/>
<circle cx="2105.8" cy="743.2" r="3.4" fill="#f4a582"/>
<circle cx="2110.2" cy="770.7" r="3.4" fill="#bd2e35"/>
<circle cx="2114.7" cy="764.3" r="3.4" fill="#d6604d"/>
<circle cx="2119.1" cy="757.8" r="3.4" fill="#d6604d"/>
<circle cx="2123.5" cy="776.5" r="3.4" fill="#dc6e58"/>
<circle cx="2128.0" cy="776.5" r="3.4" fill="#e58268"/>
<circle cx="2132.4" cy="775.2" r="3.4" fill="#e58268"/>
<circle cx="2136.8" cy="778.7" r="3.4" fill="#e58268"/>
<circle cx="2141.3" cy="774.6" r="3.4" fill="#f8c0a4"/>
<circle cx="2145.7" cy="781.9" r="3.4" fill="#9fcbe2"/>
<circle cx="2150.2" cy="759.6" r="3.4" fill="#053061"/>
<circle cx="2154.6" cy="757.4" r="3.4" fill="#134b86"/>
<circle cx="2159.0" cy="800.4" r="3.4" fill="#dc6e58"/>
<circle cx="2163.5" cy="788.8" r="3.4" fill="#facbb2"/>
<circle cx="2167.9" cy="782.1" r="3.4" fill="#bedbeb"/>
<circle cx="2172.4" cy="779.8" r="3.4" fill="#6aacd0"/>
<circle cx="2176.8" cy="801.2" r="3.4" fill="#e58268"/>
<circle cx="2181.2" cy="821.5" r="3.4" fill="#f9efe9"/>
<circle cx="2185.7" cy="798.0" r="3.4" fill="#f7f7f7"/>
<circle cx="2190.1" cy="810.8" r="3.4" fill="#d9e9f1"/>
<circle cx="2194.6" cy="761.2" r="3.4" fill="#9c1127"/>
<circle cx="2199.0" cy="757.3" r="3.4" fill="#f8c0a4"/>
<circle cx="2203.4" cy="737.6" r="3.4" fill="#b92632"/>
<circle cx="2207.9" cy="730.2" r="3.4" fill="#f8c0a4"/>
<circle cx="2212.3" cy="721.0" r="3.4" fill="#dc6e58"/>
<circle cx="2228.5" cy="712.7" r="3.4" fill="#a31329"/>
<circle cx="2232.1" cy="693.9" r="3.4" fill="#bd2e35"/>
<circle cx="2235.7" cy="717.2" r="3.4" fill="#67001f"/>
<circle cx="2239.3" cy="748.8" r="3.4" fill="#d9e9f1"/>
<circle cx="2243.0" cy="785.9" r="3.4" fill="#f8c0a4"/>
<circle cx="2246.6" cy="767.6" r="3.4" fill="#eb9072"/>
<circle cx="2250.2" cy="757.1" r="3.4" fill="#8c0c25"/>
<circle cx="2253.9" cy="729.1" r="3.4" fill="#f7f7f7"/>
<circle cx="2257.5" cy="717.7" r="3.4" fill="#f4a582"/>
<circle cx="2261.1" cy="760.9" r="3.4" fill="#b2d5e7"/>
<circle cx="2264.8" cy="749.9" r="3.4" fill="#d6604d"/>
<circle cx="2268.4" cy="762.2" r="3.4" fill="#d9e9f1"/>
<circle cx="2272.0" cy="773.3" r="3.4" fill="#fce1d1"/>
<circle cx="2275.7" cy="783.5" r="3.4" fill="#dc6e58"/>
<circle cx="2279.3" cy="777.9" r="3.4" fill="#b2d5e7"/>
<circle cx="2282.9" cy="763.6" r="3.4" fill="#d1e5f0"/>
<circle cx="2286.6" cy="782.1" r="3.4" fill="#cb4a43"/>
<circle cx="2290.2" cy="780.5" r="3.4" fill="#f4a582"/>
<circle cx="2293.8" cy="771.7" r="3.4" fill="#e4eef4"/>
<circle cx="2297.5" cy="803.4" r="3.4" fill="#d1e5f0"/>
<circle cx="2301.1" cy="789.7" r="3.4" fill="#6aacd0"/>
<circle cx="2304.7" cy="797.4" r="3.4" fill="#4393c3"/>
<circle cx="2308.4" cy="818.9" r="3.4" fill="#fce1d1"/>
<circle cx="2312.0" cy="808.6" r="3.4" fill="#d1e5f0"/>
<circle cx="2315.6" cy="807.1" r="3.4" fill="#fbe3d5"/>
<circle cx="2319.2" cy="822.0" r="3.4" fill="#d9e9f1"/>
<circle cx="2322.9" cy="794.8" r="3.4" fill="#3986bc"/>
<circle cx="2326.5" cy="788.8" r="3.4" fill="#6aacd0"/>
<circle cx="2330.1" cy="788.8" r="3.4" fill="#72b1d3"/>
<circle cx="2333.8" cy="813.8" r="3.4" fill="#2b74b3"/>
<circle cx="2337.4" cy="794.7" r="3.4" fill="#d9e9f1"/>
<circle cx="2341.0" cy="765.4" r="3.4" fill="#9fcbe2"/>
<circle cx="2344.7" cy="785.9" r="3.4" fill="#cb4a43"/>
<circle cx="2348.3" cy="757.9" r="3.4" fill="#cb4a43"/>
<circle cx="2351.9" cy="750.8" r="3.4" fill="#fbe3d5"/>
<circle cx="2355.6" cy="751.5" r="3.4" fill="#053061"/>
<circle cx="2359.2" cy="755.0" r="3.4" fill="#b2d5e7"/>
<circle cx="2362.8" cy="752.4" r="3.4" fill="#b2d5e7"/>
<circle cx="2366.5" cy="741.4" r="3.4" fill="#92c5de"/>
<circle cx="2370.1" cy="757.2" r="3.4" fill="#f8c0a4"/>
<circle cx="2373.7" cy="733.3" r="3.4" fill="#f4a582"/>
<circle cx="2377.4" cy="751.5" r="3.4" fill="#f9ece4"/>
<circle cx="2381.0" cy="733.6" r="3.4" fill="#f9ece4"/>
<circle cx="2384.6" cy="743.8" r="3.4" fill="#f9c5ab"/>
<circle cx="2388.3" cy="724.6" r="3.4" fill="#760521"/>
</g>
<polyline points="1348.8,849.6 1352.1,850.8 1355.4,852.0 1358.7,852.0 1362.1,852.0 1365.4,850.7 1368.7,850.9 1372.1,849.6 1375.4,849.9 1378.7,851.0 1382.0,850.0 1385.4,848.5 1388.7,847.0 1392.0,843.7 1395.4,842.2 1398.7,840.7 1402.0,848.4 1405.3,848.2 1408.7,848.0 1412.0,851.2 1415.3,849.8 1418.7,848.4 1422.0,847.0 1425.3,841.6 1428.7,842.3 1432.0,843.0 1435.3,840.7 1438.6,838.4 1442.0,831.1 1445.3,832.3 1448.6,833.6 1452.0,834.8 1455.3,836.1 1458.6,837.3 1461.9,837.2 1465.3,837.1 1468.6,837.0 1471.9,840.3 1475.3,842.0 1478.6,843.7 1481.9,845.4 1485.2,849.4 1488.6,850.8 1491.9,852.1 1495.2,852.1 1498.6,852.1 1501.9,852.1 1505.2,851.5 1508.6,850.9" fill="none" stroke="#1f77b4" stroke-width="1.6" stroke-linejoin="round" stroke-linecap="square"/>
<polyline points="1524.7,851.3 1527.8,846.6 1531.0,848.4 1534.1,848.4 1537.2,848.4 1540.4,848.4 1543.5,835.6 1546.6,836.0 1549.8,836.4 1552.9,836.9 1556.0,836.8 1559.2,836.7 1562.3,836.7 1565.4,836.6 1568.6,836.5 1571.7,836.5 1574.8,836.4 1578.0,839.0 1581.1,839.0 1584.2,855.1 1587.4,853.8 1590.5,851.6 1593.6,850.8 1596.8,852.0 1599.9,850.9 1603.0,844.4 1606.2,843.6 1609.3,842.3 1612.4,843.1 1615.6,842.9 1618.7,846.3 1621.8,848.4 1625.0,848.4 1628.1,849.5 1631.2,852.0 1634.4,851.9 1637.5,851.3 1640.6,850.8 1643.8,849.5 1646.9,848.2 1650.0,846.8 1653.2,851.9 1656.3,852.0 1659.4,850.9 1662.6,852.0 1665.7,851.4 1668.8,850.9 1672.0,850.8 1675.1,849.5 1678.2,849.6 1681.4,849.6 1684.5,849.7" fill="none" stroke="#1f77b4" stroke-width="1.6" stroke-linejoin="round" stroke-linecap="square"/>
<polyline points="1700.6,846.8 1703.2,851.9 1705.9,850.8 1708.5,849.5 1711.1,848.3 1713.7,847.0 1716.3,848.4 1719.0,848.4 1721.6,848.4 1724.2,848.4 1726.8,848.4 1729.4,849.7 1732.1,849.7 1734.7,849.7 1737.3,848.4 1739.9,848.4 1742.5,850.9 1745.2,851.1 1747.8,852.0 1750.4,852.0 1753.0,852.0 1755.6,843.9 1758.3,842.2 1760.9,840.4 1763.5,838.2 1766.1,835.6 1768.7,829.7 1771.4,831.0 1774.0,833.4 1776.6,835.8 1779.2,838.2 1781.8,839.4 1784.5,840.6 1787.1,840.6 1789.7,840.6 1792.3,840.6 1794.9,840.6 1797.6,842.3 1800.2,843.9 1802.8,844.7 1805.4,840.1 1808.0,842.2 1810.7,845.2 1813.3,859.5 1815.9,859.7 1818.5,858.4 1821.1,858.1 1823.8,857.8 1826.4,856.8 1829.0,855.9 1831.6,848.6 1834.2,850.5 1836.9,852.4 1839.5,853.7 1842.1,855.1 1844.7,842.5 1847.3,839.7 1850.0,836.9 1852.6,837.7 1855.2,838.6 1857.8,849.5 1860.4,851.1" fill="none" stroke="#1f77b4" stroke-width="1.6" stroke-linejoin="round" stroke-linecap="square"/>
<polyline points="1876.6,753.9 1884.6,759.3 1892.5,759.1 1900.5,760.9 1908.5,762.0 1916.5,771.6 1924.5,771.6 1932.5,790.6 1940.5,789.5 1948.5,801.1 1956.5,793.1 1964.5,802.5 1972.5,787.2 1980.4,771.9 1988.4,771.6 1996.4,764.4 2004.4,761.7 2012.4,760.1 2020.4,750.5 2028.4,751.0 2036.4,751.0" fill="none" stroke="#1f77b4" stroke-width="1.6" stroke-linejoin="round" stroke-linecap="square"/>
<polyline points="2052.5,754.7 2056.9,769.0 2061.4,769.8 2065.8,770.6 2070.3,776.8 2074.7,776.8 2079.1,799.6 2083.6,799.6 2088.0,795.2 2092.5,755.8 2096.9,755.0 2101.3,752.9 2105.8,748.6 2110.2,748.3 2114.7,746.8 2119.1,732.5 2123.5,732.5 2128.0,729.2 2132.4,725.9 2136.8,689.1 2141.3,683.8 2145.7,680.2 2150.2,675.2 2154.6,655.7 2159.0,660.2 2163.5,664.2 2167.9,666.1 2172.4,705.5 2176.8,705.7 2181.2,708.9 2185.7,711.8 2190.1,755.6 2194.6,760.4 2199.0,761.5 2203.4,757.2 2207.9,752.9 2212.3,745.2" fill="none" stroke="#1f77b4" stroke-width="1.6" stroke-linejoin="round" stroke-linecap="square"/>
<polyline points="2228.5,747.0 2232.1,750.8 2235.7,754.5 2239.3,757.2 2243.0,759.1 2246.6,760.9 2250.2,777.0 2253.9,778.9 2257.5,781.1 2261.1,799.8 2264.8,793.9 2268.4,747.5 2272.0,732.5 2275.7,730.2 2279.3,728.8 2282.9,705.7 2286.6,702.7 2290.2,700.4 2293.8,675.2 2297.5,667.1 2301.1,660.9 2304.7,659.1 2308.4,655.7 2312.0,655.6 2315.6,656.4 2319.2,658.6 2322.9,675.2 2326.5,675.2 2330.1,677.9 2333.8,680.8 2337.4,682.1 2341.0,716.8 2344.7,719.3 2348.3,722.0 2351.9,746.1 2355.6,748.6 2359.2,750.5 2362.8,753.1 2366.5,769.0 2370.1,765.8 2373.7,762.9 2377.4,762.8 2381.0,756.6 2384.6,754.8 2388.3,752.7" fill="none" stroke="#1f77b4" stroke-width="1.6" stroke-linejoin="round" stroke-linecap="square"/>
<path d="M1340.90,609.55H2399.94M2396.54,609.55V885.65H1340.90V609.55M1516.84,609.55V885.65M1692.78,609.55V885.65M1868.72,609.55V885.65M2044.66,609.55V885.65M2220.60,609.55V885.65M1337.50,633.20H1340.90M1337.50,693.28H1340.90M1337.50,753.36H1340.90M1337.50,813.44H1340.90M1337.50,873.52H1340.90M1516.84,644.75h3.4M1516.84,680.42h3.4M1516.84,716.09h3.4M1516.84,751.76h3.4M1516.84,787.43h3.4M1516.84,823.10h3.4M1516.84,858.77h3.4M1513.44,633.20H1516.84M1513.44,693.28H1516.84M1513.44,753.36H1516.84M1513.44,813.44H1516.84M1513.44,873.52H1516.84M1692.78,644.75h3.4M1692.78,680.42h3.4M1692.78,716.09h3.4M1692.78,751.76h3.4M1692.78,787.43h3.4M1692.78,823.10h3.4M1692.78,858.77h3.4M1689.38,633.20H1692.78M1689.38,693.28H1692.78M1689.38,753.36H1692.78M1689.38,813.44H1692.78M1689.38,873.52H1692.78M1868.72,644.75h3.4M1868.72,680.42h3.4M1868.72,716.09h3.4M1868.72,751.76h3.4M1868.72,787.43h3.4M1868.72,823.10h3.4M1868.72,858.77h3.4M1865.32,633.20H1868.72M1865.32,693.28H1868.72M1865.32,753.36H1868.72M1865.32,813.44H1868.72M1865.32,873.52H1868.72M2044.66,644.75h3.4M2044.66,680.42h3.4M2044.66,716.09h3.4M2044.66,751.76h3.4M2044.66,787.43h3.4M2044.66,823.10h3.4M2044.66,858.77h3.4M2041.26,633.20H2044.66M2041.26,693.28H2044.66M2041.26,753.36H2044.66M2041.26,813.44H2044.66M2041.26,873.52H2044.66M2220.60,644.75h3.4M2220.60,680.42h3.4M2220.60,716.09h3.4M2220.60,751.76h3.4M2220.60,787.43h3.4M2220.60,823.10h3.4M2220.60,858.77h3.4M2217.20,633.20H2220.60M2217.20,693.28H2220.60M2217.20,753.36H2220.60M2217.20,813.44H2220.60M2217.20,873.52H2220.60M2396.54,644.75h3.4M2396.54,680.42h3.4M2396.54,716.09h3.4M2396.54,751.76h3.4M2396.54,787.43h3.4M2396.54,823.10h3.4M2396.54,858.77h3.4" fill="none" stroke="#444" stroke-width="1.3"/>
<text transform="translate(1333.90,636.95) scale(1,1.07)" text-anchor="end">1.5</text>
<text transform="translate(1333.90,697.03) scale(1,1.07)" text-anchor="end">1.0</text>
<text transform="translate(1333.90,757.11) scale(1,1.07)" text-anchor="end">0.5</text>
<text transform="translate(1333.90,817.19) scale(1,1.07)" text-anchor="end">0.0</text>
<text transform="translate(1333.90,877.27) scale(1,1.07)" text-anchor="end">−0.5</text>
<text transform="translate(1428.57,897.35) scale(1,1.07)" text-anchor="middle">May 2004 (BA1)</text>
<text transform="translate(1604.51,897.35) scale(1,1.07)" text-anchor="middle">Sept. 2004 (BA2)</text>
<text transform="translate(1780.45,897.35) scale(1,1.07)" text-anchor="middle">April 2005 (BA3)</text>
<text transform="translate(1956.39,897.35) scale(1,1.07)" text-anchor="middle">July 2006 (BA4)</text>
<text transform="translate(2132.33,897.35) scale(1,1.07)" text-anchor="middle">August 2007 (BA5)</text>
<text transform="translate(2308.27,897.35) scale(1,1.07)" text-anchor="middle">August 2008 (BA6)</text>
<text transform="translate(1304.50,747.30) rotate(-90) scale(1.07,1)" text-anchor="middle">log(TChl a) [<tspan font-style="italic">mg</tspan>/<tspan font-style="italic">m</tspan><tspan font-size="6.61" dy="-3.4">3</tspan><tspan dy="3.4">]</tspan></text>
<text transform="translate(2417.20,746.20) rotate(-90) scale(1.07,1)" text-anchor="middle">Latitude (N)</text>
<text transform="translate(2380.70,631.05) scale(1,1.07)" text-anchor="middle" font-size="11.4">(cc)</text>
<rect x="2437.2" y="620.50" width="27.60" height="250.60" fill="url(#rdbu)" stroke="#1a1a1a" stroke-width="1.1"/>
<path d="M2464.8,637.00h3.6M2464.8,691.72h3.6M2464.8,746.44h3.6M2464.8,801.16h3.6M2464.8,855.88h3.6" fill="none" stroke="#444" stroke-width="1.3"/>
<text transform="translate(2471.40,640.75) scale(1,1.07)">2</text>
<text transform="translate(2471.40,695.47) scale(1,1.07)">1</text>
<text transform="translate(2471.40,750.19) scale(1,1.07)">0</text>
<text transform="translate(2471.40,804.91) scale(1,1.07)">−1</text>
<text transform="translate(2471.40,859.63) scale(1,1.07)">−2</text>
</g>
<g id="row3">
<g stroke="none" clip-path="url(#cl3)">
<circle cx="1348.8" cy="1055.1" r="3.4" fill="#8c0c25"/>
<circle cx="1352.1" cy="1051.0" r="3.4" fill="#dceaf2"/>
<circle cx="1355.4" cy="1039.8" r="3.4" fill="#c43c3c"/>
<circle cx="1358.7" cy="979.7" r="3.4" fill="#dc6e58"/>
<circle cx="1362.1" cy="967.9" r="3.4" fill="#facbb2"/>
<circle cx="1365.4" cy="1039.2" r="3.4" fill="#eb9072"/>
<circle cx="1368.7" cy="1041.9" r="3.4" fill="#ee9777"/>
<circle cx="1372.1" cy="1079.2" r="3.4" fill="#f4a582"/>
<circle cx="1375.4" cy="1050.3" r="3.4" fill="#c4dfec"/>
<circle cx="1378.7" cy="1062.6" r="3.4" fill="#facbb2"/>
<circle cx="1382.0" cy="1085.7" r="3.4" fill="#e4eef4"/>
<circle cx="1385.4" cy="1098.2" r="3.4" fill="#b92632"/>
<circle cx="1388.7" cy="1065.6" r="3.4" fill="#b92632"/>
<circle cx="1392.0" cy="1085.4" r="3.4" fill="#ee9777"/>
<circle cx="1395.4" cy="1037.3" r="3.4" fill="#ee9777"/>
<circle cx="1398.7" cy="1086.0" r="3.4" fill="#f4a582"/>
<circle cx="1402.0" cy="1110.9" r="3.4" fill="#eb9072"/>
<circle cx="1405.3" cy="1079.8" r="3.4" fill="#67001f"/>
<circle cx="1408.7" cy="1078.5" r="3.4" fill="#cb4a43"/>
<circle cx="1412.0" cy="1083.5" r="3.4" fill="#e8f0f4"/>
<circle cx="1415.3" cy="1070.1" r="3.4" fill="#c4dfec"/>
<circle cx="1418.7" cy="1101.2" r="3.4" fill="#bd2e35"/>
<circle cx="1422.0" cy="1092.1" r="3.4" fill="#facbb2"/>
<circle cx="1425.3" cy="1129.3" r="3.4" fill="#bedbeb"/>
<circle cx="1428.7" cy="1130.2" r="3.4" fill="#f9ece4"/>
<circle cx="1432.0" cy="1142.7" r="3.4" fill="#134b86"/>
<circle cx="1435.3" cy="1128.9" r="3.4" fill="#fae9df"/>
<circle cx="1438.6" cy="1089.4" r="3.4" fill="#d1e5f0"/>
<circle cx="1442.0" cy="1057.5" r="3.4" fill="#a5cfe3"/>
<circle cx="1445.3" cy="1068.7" r="3.4" fill="#d9e9f1"/>
<circle cx="1448.6" cy="1065.0" r="3.4" fill="#f8c0a4"/>
<circle cx="1452.0" cy="1065.8" r="3.4" fill="#a5cfe3"/>
<circle cx="1455.3" cy="1096.7" r="3.4" fill="#6aacd0"/>
<circle cx="1458.6" cy="1117.6" r="3.4" fill="#92c5de"/>
<circle cx="1461.9" cy="1127.9" r="3.4" fill="#bedbeb"/>
<circle cx="1465.3" cy="1149.5" r="3.4" fill="#82bbd9"/>
<circle cx="1468.6" cy="1137.3" r="3.4" fill="#053061"/>
<circle cx="1471.9" cy="1132.8" r="3.4" fill="#5ba2cb"/>
<circle cx="1475.3" cy="1185.4" r="3.4" fill="#2166ac"/>
<circle cx="1478.6" cy="1172.5" r="3.4" fill="#92c5de"/>
<circle cx="1481.9" cy="1156.4" r="3.4" fill="#facbb2"/>
<circle cx="1485.2" cy="1085.1" r="3.4" fill="#facbb2"/>
<circle cx="1488.6" cy="1086.4" r="3.4" fill="#d9e9f1"/>
<circle cx="1491.9" cy="1095.9" r="3.4" fill="#f9ece4"/>
<circle cx="1495.2" cy="1025.6" r="3.4" fill="#327cb8"/>
<circle cx="1498.6" cy="1035.9" r="3.4" fill="#a5cfe3"/>
<circle cx="1501.9" cy="1043.6" r="3.4" fill="#4393c3"/>
<circle cx="1505.2" cy="1012.0" r="3.4" fill="#4393c3"/>
<circle cx="1508.6" cy="1094.8" r="3.4" fill="#c4dfec"/>
<circle cx="1524.7" cy="1048.0" r="3.4" fill="#fddbc7"/>
<circle cx="1527.8" cy="1096.1" r="3.4" fill="#facbb2"/>
<circle cx="1531.0" cy="1070.2" r="3.4" fill="#e58268"/>
<circle cx="1534.1" cy="1063.3" r="3.4" fill="#b2182b"/>
<circle cx="1537.2" cy="1050.9" r="3.4" fill="#dc6e58"/>
<circle cx="1540.4" cy="1080.8" r="3.4" fill="#ecf2f5"/>
<circle cx="1543.5" cy="1105.2" r="3.4" fill="#b2182b"/>
<circle cx="1546.6" cy="1097.3" r="3.4" fill="#940e26"/>
<circle cx="1549.8" cy="1100.5" r="3.4" fill="#9c1127"/>
<circle cx="1552.9" cy="1104.0" r="3.4" fill="#b2182b"/>
<circle cx="1556.0" cy="1129.5" r="3.4" fill="#940e26"/>
<circle cx="1559.2" cy="1113.4" r="3.4" fill="#850a24"/>
<circle cx="1562.3" cy="1131.3" r="3.4" fill="#b2182b"/>
<circle cx="1565.4" cy="1130.3" r="3.4" fill="#b2182b"/>
<circle cx="1568.6" cy="1131.1" r="3.4" fill="#b2182b"/>
<circle cx="1571.7" cy="1123.6" r="3.4" fill="#850a24"/>
<circle cx="1574.8" cy="1124.7" r="3.4" fill="#760521"/>
<circle cx="1578.0" cy="1135.1" r="3.4" fill="#a31329"/>
<circle cx="1581.1" cy="1135.6" r="3.4" fill="#a31329"/>
<circle cx="1584.2" cy="1081.2" r="3.4" fill="#b92632"/>
<circle cx="1587.4" cy="1104.6" r="3.4" fill="#c43c3c"/>
<circle cx="1590.5" cy="1097.3" r="3.4" fill="#c43c3c"/>
<circle cx="1593.6" cy="1104.6" r="3.4" fill="#850a24"/>
<circle cx="1596.8" cy="1101.9" r="3.4" fill="#b92632"/>
<circle cx="1599.9" cy="1051.8" r="3.4" fill="#d6604d"/>
<circle cx="1603.0" cy="1054.8" r="3.4" fill="#fddbc7"/>
<circle cx="1606.2" cy="1064.1" r="3.4" fill="#f8c0a4"/>
<circle cx="1609.3" cy="1093.4" r="3.4" fill="#d6604d"/>
<circle cx="1612.4" cy="1079.1" r="3.4" fill="#b2182b"/>
<circle cx="1615.6" cy="1078.8" r="3.4" fill="#b2182b"/>
<circle cx="1618.7" cy="1057.1" r="3.4" fill="#d6604d"/>
<circle cx="1621.8" cy="1055.0" r="3.4" fill="#fae9df"/>
<circle cx="1625.0" cy="1060.3" r="3.4" fill="#f9efe9"/>
<circle cx="1628.1" cy="1053.9" r="3.4" fill="#ee9777"/>
<circle cx="1631.2" cy="1046.4" r="3.4" fill="#bedbeb"/>
<circle cx="1634.4" cy="1012.7" r="3.4" fill="#92c5de"/>
<circle cx="1637.5" cy="1064.1" r="3.4" fill="#cb4a43"/>
<circle cx="1640.6" cy="1070.9" r="3.4" fill="#eb9072"/>
<circle cx="1643.8" cy="1063.9" r="3.4" fill="#e58268"/>
<circle cx="1646.9" cy="1048.8" r="3.4" fill="#7e0723"/>
<circle cx="1650.0" cy="1066.6" r="3.4" fill="#b2182b"/>
<circle cx="1653.2" cy="948.5" r="3.4" fill="#195695"/>
<circle cx="1656.3" cy="1022.2" r="3.4" fill="#a5cfe3"/>
<circle cx="1659.4" cy="1086.8" r="3.4" fill="#f7b597"/>
<circle cx="1662.6" cy="1040.5" r="3.4" fill="#fce1d1"/>
<circle cx="1665.7" cy="1045.3" r="3.4" fill="#e58268"/>
<circle cx="1668.8" cy="1070.3" r="3.4" fill="#dc6e58"/>
<circle cx="1672.0" cy="1077.8" r="3.4" fill="#f4a582"/>
<circle cx="1675.1" cy="1065.9" r="3.4" fill="#cb4a43"/>
<circle cx="1678.2" cy="1065.9" r="3.4" fill="#f8c0a4"/>
<circle cx="1681.4" cy="1023.2" r="3.4" fill="#f8f1ed"/>
<circle cx="1684.5" cy="1056.8" r="3.4" fill="#539dc8"/>
<circle cx="1700.6" cy="963.9" r="3.4" fill="#f4a582"/>
<circle cx="1703.2" cy="933.0" r="3.4" fill="#dceaf2"/>
<circle cx="1705.9" cy="933.2" r="3.4" fill="#cb4a43"/>
<circle cx="1708.5" cy="945.2" r="3.4" fill="#cb4a43"/>
<circle cx="1711.1" cy="976.9" r="3.4" fill="#cb4a43"/>
<circle cx="1713.7" cy="999.1" r="3.4" fill="#d6604d"/>
<circle cx="1716.3" cy="969.3" r="3.4" fill="#c43c3c"/>
<circle cx="1719.0" cy="971.6" r="3.4" fill="#f7b597"/>
<circle cx="1721.6" cy="988.4" r="3.4" fill="#c43c3c"/>
<circle cx="1724.2" cy="968.0" r="3.4" fill="#dc6e58"/>
<circle cx="1726.8" cy="992.4" r="3.4" fill="#cb4a43"/>
<circle cx="1729.4" cy="962.9" r="3.4" fill="#dc6e58"/>
<circle cx="1732.1" cy="974.3" r="3.4" fill="#fce1d1"/>
<circle cx="1734.7" cy="976.4" r="3.4" fill="#f7f7f7"/>
<circle cx="1737.3" cy="988.0" r="3.4" fill="#fce1d1"/>
<circle cx="1739.9" cy="977.6" r="3.4" fill="#fddbc7"/>
<circle cx="1745.2" cy="918.7" r="3.4" fill="#eb9072"/>
<circle cx="1747.8" cy="932.9" r="3.4" fill="#d6604d"/>
<circle cx="1750.4" cy="911.1" r="3.4" fill="#f7f7f7"/>
<circle cx="1753.0" cy="920.0" r="3.4" fill="#dc6e58"/>
<circle cx="1755.6" cy="1034.7" r="3.4" fill="#dceaf2"/>
<circle cx="1758.3" cy="1033.6" r="3.4" fill="#d6604d"/>
<circle cx="1760.9" cy="980.4" r="3.4" fill="#d6604d"/>
<circle cx="1763.5" cy="1033.6" r="3.4" fill="#b92632"/>
<circle cx="1766.1" cy="1009.3" r="3.4" fill="#fbe3d5"/>
<circle cx="1768.7" cy="1085.3" r="3.4" fill="#d6604d"/>
<circle cx="1771.4" cy="1036.3" r="3.4" fill="#f7f7f7"/>
<circle cx="1774.0" cy="1017.0" r="3.4" fill="#eb9072"/>
<circle cx="1776.6" cy="1061.7" r="3.4" fill="#cf5246"/>
<circle cx="1779.2" cy="1023.6" r="3.4" fill="#eb9072"/>
<circle cx="1781.8" cy="1074.5" r="3.4" fill="#c43c3c"/>
<circle cx="1784.5" cy="1066.5" r="3.4" fill="#9c1127"/>
<circle cx="1787.1" cy="1075.0" r="3.4" fill="#8c0c25"/>
<circle cx="1789.7" cy="1072.4" r="3.4" fill="#940e26"/>
<circle cx="1792.3" cy="1060.7" r="3.4" fill="#d6604d"/>
<circle cx="1794.9" cy="1084.9" r="3.4" fill="#67001f"/>
<circle cx="1797.6" cy="1062.0" r="3.4" fill="#d6604d"/>
<circle cx="1800.2" cy="1102.2" r="3.4" fill="#dc6e58"/>
<circle cx="1802.8" cy="1068.8" r="3.4" fill="#f4a582"/>
<circle cx="1805.4" cy="1105.0" r="3.4" fill="#e58268"/>
<circle cx="1808.0" cy="1156.3" r="3.4" fill="#ee9777"/>
<circle cx="1810.7" cy="1114.9" r="3.4" fill="#f7b597"/>
<circle cx="1813.3" cy="1059.6" r="3.4" fill="#f7f7f7"/>
<circle cx="1815.9" cy="1069.8" r="3.4" fill="#d9e9f1"/>
<circle cx="1818.5" cy="1059.1" r="3.4" fill="#bedbeb"/>
<circle cx="1821.1" cy="1051.2" r="3.4" fill="#5ba2cb"/>
<circle cx="1823.8" cy="1056.8" r="3.4" fill="#053061"/>
<circle cx="1826.4" cy="1091.6" r="3.4" fill="#3c8abe"/>
<circle cx="1829.0" cy="1072.9" r="3.4" fill="#82bbd9"/>
<circle cx="1831.6" cy="1083.6" r="3.4" fill="#f8c0a4"/>
<circle cx="1834.2" cy="1119.1" r="3.4" fill="#ee9777"/>
<circle cx="1836.9" cy="1116.6" r="3.4" fill="#fddbc7"/>
<circle cx="1839.5" cy="1093.6" r="3.4" fill="#fddbc7"/>
<circle cx="1842.1" cy="1122.5" r="3.4" fill="#e58268"/>
<circle cx="1844.7" cy="1153.8" r="3.4" fill="#9c1127"/>
<circle cx="1847.3" cy="1131.6" r="3.4" fill="#9c1127"/>
<circle cx="1850.0" cy="1049.6" r="3.4" fill="#c43c3c"/>
<circle cx="1852.6" cy="1068.7" r="3.4" fill="#b2182b"/>
<circle cx="1855.2" cy="1002.0" r="3.4" fill="#b92632"/>
<circle cx="1857.8" cy="934.1" r="3.4" fill="#c43c3c"/>
<circle cx="1860.4" cy="939.1" r="3.4" fill="#b92632"/>
<circle cx="1876.6" cy="1047.0" r="3.4" fill="#fae9df"/>
<circle cx="1884.6" cy="1063.6" r="3.4" fill="#b2d5e7"/>
<circle cx="1892.5" cy="1061.0" r="3.4" fill="#539dc8"/>
<circle cx="1900.5" cy="1067.9" r="3.4" fill="#fae9df"/>
<circle cx="1908.5" cy="1073.3" r="3.4" fill="#ecf2f5"/>
<circle cx="1916.5" cy="1078.2" r="3.4" fill="#3c8abe"/>
<circle cx="1924.5" cy="1069.6" r="3.4" fill="#053061"/>
<circle cx="1932.5" cy="1089.7" r="3.4" fill="#fae9df"/>
<circle cx="1940.5" cy="1044.7" r="3.4" fill="#eb9072"/>
<circle cx="1948.5" cy="1052.1" r="3.4" fill="#a5cfe3"/>
<circle cx="1956.5" cy="1056.2" r="3.4" fill="#f8c0a4"/>
<circle cx="1964.5" cy="1081.8" r="3.4" fill="#c43c3c"/>
<circle cx="1972.5" cy="1081.6" r="3.4" fill="#eff3f6"/>
<circle cx="1980.4" cy="1089.1" r="3.4" fill="#67001f"/>
<circle cx="1988.4" cy="1115.7" r="3.4" fill="#eb9072"/>
<circle cx="1996.4" cy="1086.4" r="3.4" fill="#f8c0a4"/>
<circle cx="2004.4" cy="1036.9" r="3.4" fill="#dceaf2"/>
<circle cx="2012.4" cy="1080.3" r="3.4" fill="#f4a582"/>
<circle cx="2020.4" cy="1007.1" r="3.4" fill="#9fcbe2"/>
<circle cx="2028.4" cy="1035.7" r="3.4" fill="#d1e5f0"/>
<circle cx="2036.4" cy="1035.7" r="3.4" fill="#d6604d"/>
<circle cx="2052.5" cy="986.8" r="3.4" fill="#f7f7f7"/>
<circle cx="2056.9" cy="1000.4" r="3.4" fill="#fce1d1"/>
<circle cx="2061.4" cy="1044.5" r="3.4" fill="#6aacd0"/>
<circle cx="2065.8" cy="1042.8" r="3.4" fill="#d9e9f1"/>
<circle cx="2070.3" cy="1050.0" r="3.4" fill="#a5cfe3"/>
<circle cx="2074.7" cy="1070.3" r="3.4" fill="#eb9072"/>
<circle cx="2079.1" cy="1065.8" r="3.4" fill="#cb4a43"/>
<circle cx="2083.6" cy="1059.2" r="3.4" fill="#d1e5f0"/>
<circle cx="2088.0" cy="1052.7" r="3.4" fill="#9fcbe2"/>
<circle cx="2092.5" cy="1048.4" r="3.4" fill="#a5cfe3"/>
<circle cx="2096.9" cy="1069.5" r="3.4" fill="#c4dfec"/>
<circle cx="2101.3" cy="1056.9" r="3.4" fill="#d9e9f1"/>
<circle cx="2105.8" cy="1047.3" r="3.4" fill="#fbe3d5"/>
<circle cx="2110.2" cy="1074.8" r="3.4" fill="#d9e9f1"/>
<circle cx="2114.7" cy="1068.4" r="3.4" fill="#dceaf2"/>
<circle cx="2119.1" cy="1061.9" r="3.4" fill="#bedbeb"/>
<circle cx="2123.5" cy="1080.6" r="3.4" fill="#6aacd0"/>
<circle cx="2128.0" cy="1080.6" r="3.4" fill="#b2d5e7"/>
<circle cx="2132.4" cy="1079.3" r="3.4" fill="#b2d5e7"/>
<circle cx="2136.8" cy="1082.8" r="3.4" fill="#bedbeb"/>
<circle cx="2141.3" cy="1078.7" r="3.4" fill="#a5cfe3"/>
<circle cx="2145.7" cy="1086.0" r="3.4" fill="#e58268"/>
<circle cx="2150.2" cy="1063.7" r="3.4" fill="#67001f"/>
<circle cx="2154.6" cy="1061.5" r="3.4" fill="#fbe3d5"/>
<circle cx="2159.0" cy="1104.5" r="3.4" fill="#053061"/>
<circle cx="2163.5" cy="1092.9" r="3.4" fill="#4393c3"/>
<circle cx="2167.9" cy="1086.2" r="3.4" fill="#e4eef4"/>
<circle cx="2172.4" cy="1083.9" r="3.4" fill="#facbb2"/>
<circle cx="2176.8" cy="1105.3" r="3.4" fill="#d1e5f0"/>
<circle cx="2181.2" cy="1125.6" r="3.4" fill="#dc6e58"/>
<circle cx="2185.7" cy="1102.1" r="3.4" fill="#f8c0a4"/>
<circle cx="2190.1" cy="1114.9" r="3.4" fill="#eb9072"/>
<circle cx="2194.6" cy="1065.3" r="3.4" fill="#b2d5e7"/>
<circle cx="2199.0" cy="1061.4" r="3.4" fill="#d1e5f0"/>
<circle cx="2203.4" cy="1041.7" r="3.4" fill="#f9ece4"/>
<circle cx="2207.9" cy="1034.3" r="3.4" fill="#bedbeb"/>
<circle cx="2212.3" cy="1025.1" r="3.4" fill="#92c5de"/>
<circle cx="2228.5" cy="1016.8" r="3.4" fill="#b2d5e7"/>
<circle cx="2232.1" cy="998.0" r="3.4" fill="#d1e5f0"/>
<circle cx="2235.7" cy="1021.3" r="3.4" fill="#bedbeb"/>
<circle cx="2239.3" cy="1052.9" r="3.4" fill="#f9ece4"/>
<circle cx="2243.0" cy="1090.0" r="3.4" fill="#ecf2f5"/>
<circle cx="2246.6" cy="1071.7" r="3.4" fill="#4393c3"/>
<circle cx="2250.2" cy="1061.2" r="3.4" fill="#a5cfe3"/>
<circle cx="2253.9" cy="1033.2" r="3.4" fill="#b2d5e7"/>
<circle cx="2257.5" cy="1021.8" r="3.4" fill="#f9ece4"/>
<circle cx="2261.1" cy="1065.0" r="3.4" fill="#cb4a43"/>
<circle cx="2264.8" cy="1054.0" r="3.4" fill="#1b5b9d"/>
<circle cx="2268.4" cy="1066.3" r="3.4" fill="#4393c3"/>
<circle cx="2272.0" cy="1077.4" r="3.4" fill="#6aacd0"/>
<circle cx="2275.7" cy="1087.6" r="3.4" fill="#327cb8"/>
<circle cx="2279.3" cy="1082.0" r="3.4" fill="#b2d5e7"/>
<circle cx="2282.9" cy="1067.7" r="3.4" fill="#f9efe9"/>
<circle cx="2286.6" cy="1086.2" r="3.4" fill="#6aacd0"/>
<circle cx="2290.2" cy="1084.6" r="3.4" fill="#6aacd0"/>
<circle cx="2293.8" cy="1075.8" r="3.4" fill="#82bbd9"/>
<circle cx="2297.5" cy="1107.5" r="3.4" fill="#327cb8"/>
<circle cx="2301.1" cy="1093.8" r="3.4" fill="#6aacd0"/>
<circle cx="2304.7" cy="1101.5" r="3.4" fill="#82bbd9"/>
<circle cx="2308.4" cy="1123.0" r="3.4" fill="#053061"/>
<circle cx="2312.0" cy="1112.7" r="3.4" fill="#0d4078"/>
<circle cx="2315.6" cy="1111.2" r="3.4" fill="#6aacd0"/>
<circle cx="2319.2" cy="1126.1" r="3.4" fill="#a5cfe3"/>
<circle cx="2322.9" cy="1098.9" r="3.4" fill="#f7f7f7"/>
<circle cx="2326.5" cy="1092.9" r="3.4" fill="#92c5de"/>
<circle cx="2330.1" cy="1092.9" r="3.4" fill="#a5cfe3"/>
<circle cx="2333.8" cy="1117.9" r="3.4" fill="#5ba2cb"/>
<circle cx="2337.4" cy="1098.8" r="3.4" fill="#1b5b9d"/>
<circle cx="2341.0" cy="1069.5" r="3.4" fill="#92c5de"/>
<circle cx="2344.7" cy="1090.0" r="3.4" fill="#3c8abe"/>
<circle cx="2348.3" cy="1062.0" r="3.4" fill="#82bbd9"/>
<circle cx="2351.9" cy="1054.9" r="3.4" fill="#d1e5f0"/>
<circle cx="2355.6" cy="1055.6" r="3.4" fill="#67001f"/>
<circle cx="2359.2" cy="1059.1" r="3.4" fill="#fddbc7"/>
<circle cx="2362.8" cy="1056.5" r="3.4" fill="#f4a582"/>
<circle cx="2366.5" cy="1045.5" r="3.4" fill="#eb9072"/>
<circle cx="2370.1" cy="1061.3" r="3.4" fill="#9fcbe2"/>
<circle cx="2373.7" cy="1037.4" r="3.4" fill="#f7f7f7"/>
<circle cx="2377.4" cy="1055.6" r="3.4" fill="#b2d5e7"/>
<circle cx="2381.0" cy="1037.7" r="3.4" fill="#b2d5e7"/>
<circle cx="2384.6" cy="1047.9" r="3.4" fill="#327cb8"/>
<circle cx="2388.3" cy="1028.7" r="3.4" fill="#d9e9f1"/>
</g>
<polyline points="1348.8,1153.7 1352.1,1154.9 1355.4,1156.1 1358.7,1156.1 1362.1,1156.1 1365.4,1154.8 1368.7,1155.0 1372.1,1153.7 1375.4,1154.0 1378.7,1155.1 1382.0,1154.1 1385.4,1152.6 1388.7,1151.1 1392.0,1147.8 1395.4,1146.3 1398.7,1144.8 1402.0,1152.5 1405.3,1152.3 1408.7,1152.1 1412.0,1155.3 1415.3,1153.9 1418.7,1152.5 1422.0,1151.1 1425.3,1145.7 1428.7,1146.4 1432.0,1147.1 1435.3,1144.8 1438.6,1142.5 1442.0,1135.2 1445.3,1136.4 1448.6,1137.7 1452.0,1138.9 1455.3,1140.2 1458.6,1141.4 1461.9,1141.3 1465.3,1141.2 1468.6,1141.1 1471.9,1144.4 1475.3,1146.1 1478.6,1147.8 1481.9,1149.5 1485.2,1153.5 1488.6,1154.9 1491.9,1156.2 1495.2,1156.2 1498.6,1156.2 1501.9,1156.2 1505.2,1155.6 1508.6,1155.0" fill="none" stroke="#1f77b4" stroke-width="1.6" stroke-linejoin="round" stroke-linecap="square"/>
<polyline points="1524.7,1155.4 1527.8,1150.7 1531.0,1152.5 1534.1,1152.5 1537.2,1152.5 1540.4,1152.5 1543.5,1139.7 1546.6,1140.1 1549.8,1140.5 1552.9,1141.0 1556.0,1140.9 1559.2,1140.8 1562.3,1140.8 1565.4,1140.7 1568.6,1140.6 1571.7,1140.6 1574.8,1140.5 1578.0,1143.1 1581.1,1143.1 1584.2,1159.2 1587.4,1157.9 1590.5,1155.7 1593.6,1154.9 1596.8,1156.1 1599.9,1155.0 1603.0,1148.5 1606.2,1147.7 1609.3,1146.4 1612.4,1147.2 1615.6,1147.0 1618.7,1150.4 1621.8,1152.5 1625.0,1152.5 1628.1,1153.6 1631.2,1156.1 1634.4,1156.0 1637.5,1155.4 1640.6,1154.9 1643.8,1153.6 1646.9,1152.3 1650.0,1150.9 1653.2,1156.0 1656.3,1156.1 1659.4,1155.0 1662.6,1156.1 1665.7,1155.5 1668.8,1155.0 1672.0,1154.9 1675.1,1153.6 1678.2,1153.7 1681.4,1153.7 1684.5,1153.8" fill="none" stroke="#1f77b4" stroke-width="1.6" stroke-linejoin="round" stroke-linecap="square"/>
<polyline points="1700.6,1150.9 1703.2,1156.0 1705.9,1154.9 1708.5,1153.6 1711.1,1152.4 1713.7,1151.1 1716.3,1152.5 1719.0,1152.5 1721.6,1152.5 1724.2,1152.5 1726.8,1152.5 1729.4,1153.8 1732.1,1153.8 1734.7,1153.8 1737.3,1152.5 1739.9,1152.5 1742.5,1155.0 1745.2,1155.2 1747.8,1156.1 1750.4,1156.1 1753.0,1156.1 1755.6,1148.0 1758.3,1146.3 1760.9,1144.5 1763.5,1142.3 1766.1,1139.7 1768.7,1133.8 1771.4,1135.1 1774.0,1137.5 1776.6,1139.9 1779.2,1142.3 1781.8,1143.5 1784.5,1144.7 1787.1,1144.7 1789.7,1144.7 1792.3,1144.7 1794.9,1144.7 1797.6,1146.4 1800.2,1148.0 1802.8,1148.8 1805.4,1144.2 1808.0,1146.3 1810.7,1149.3 1813.3,1163.6 1815.9,1163.8 1818.5,1162.5 1821.1,1162.2 1823.8,1161.9 1826.4,1160.9 1829.0,1160.0 1831.6,1152.7 1834.2,1154.6 1836.9,1156.5 1839.5,1157.8 1842.1,1159.2 1844.7,1146.6 1847.3,1143.8 1850.0,1141.0 1852.6,1141.8 1855.2,1142.7 1857.8,1153.6 1860.4,1155.2" fill="none" stroke="#1f77b4" stroke-width="1.6" stroke-linejoin="round" stroke-linecap="square"/>
<polyline points="1876.6,1058.0 1884.6,1063.4 1892.5,1063.2 1900.5,1065.0 1908.5,1066.1 1916.5,1075.7 1924.5,1075.7 1932.5,1094.7 1940.5,1093.6 1948.5,1105.2 1956.5,1097.2 1964.5,1106.6 1972.5,1091.3 1980.4,1076.0 1988.4,1075.7 1996.4,1068.5 2004.4,1065.8 2012.4,1064.2 2020.4,1054.6 2028.4,1055.1 2036.4,1055.1" fill="none" stroke="#1f77b4" stroke-width="1.6" stroke-linejoin="round" stroke-linecap="square"/>
<polyline points="2052.5,1058.8 2056.9,1073.1 2061.4,1073.9 2065.8,1074.7 2070.3,1080.9 2074.7,1080.9 2079.1,1103.7 2083.6,1103.7 2088.0,1099.3 2092.5,1059.9 2096.9,1059.1 2101.3,1057.0 2105.8,1052.7 2110.2,1052.4 2114.7,1050.9 2119.1,1036.6 2123.5,1036.6 2128.0,1033.3 2132.4,1030.0 2136.8,993.2 2141.3,987.9 2145.7,984.3 2150.2,979.3 2154.6,959.8 2159.0,964.3 2163.5,968.3 2167.9,970.2 2172.4,1009.6 2176.8,1009.8 2181.2,1013.0 2185.7,1015.9 2190.1,1059.7 2194.6,1064.5 2199.0,1065.6 2203.4,1061.3 2207.9,1057.0 2212.3,1049.3" fill="none" stroke="#1f77b4" stroke-width="1.6" stroke-linejoin="round" stroke-linecap="square"/>
<polyline points="2228.5,1051.1 2232.1,1054.9 2235.7,1058.6 2239.3,1061.3 2243.0,1063.2 2246.6,1065.0 2250.2,1081.1 2253.9,1083.0 2257.5,1085.2 2261.1,1103.9 2264.8,1098.0 2268.4,1051.6 2272.0,1036.6 2275.7,1034.3 2279.3,1032.9 2282.9,1009.8 2286.6,1006.8 2290.2,1004.5 2293.8,979.3 2297.5,971.2 2301.1,965.0 2304.7,963.2 2308.4,959.8 2312.0,959.7 2315.6,960.5 2319.2,962.7 2322.9,979.3 2326.5,979.3 2330.1,982.0 2333.8,984.9 2337.4,986.2 2341.0,1020.9 2344.7,1023.4 2348.3,1026.1 2351.9,1050.2 2355.6,1052.7 2359.2,1054.6 2362.8,1057.2 2366.5,1073.1 2370.1,1069.9 2373.7,1067.0 2377.4,1066.9 2381.0,1060.7 2384.6,1058.9 2388.3,1056.8" fill="none" stroke="#1f77b4" stroke-width="1.6" stroke-linejoin="round" stroke-linecap="square"/>
<path d="M1340.90,913.65H2399.94M2396.54,913.65V1189.75H1340.90V913.65M1516.84,913.65V1189.75M1692.78,913.65V1189.75M1868.72,913.65V1189.75M2044.66,913.65V1189.75M2220.60,913.65V1189.75M1337.50,937.30H1340.90M1337.50,997.38H1340.90M1337.50,1057.46H1340.90M1337.50,1117.54H1340.90M1337.50,1177.62H1340.90M1516.84,948.85h3.4M1516.84,984.52h3.4M1516.84,1020.19h3.4M1516.84,1055.86h3.4M1516.84,1091.53h3.4M1516.84,1127.20h3.4M1516.84,1162.87h3.4M1513.44,937.30H1516.84M1513.44,997.38H1516.84M1513.44,1057.46H1516.84M1513.44,1117.54H1516.84M1513.44,1177.62H1516.84M1692.78,948.85h3.4M1692.78,984.52h3.4M1692.78,1020.19h3.4M1692.78,1055.86h3.4M1692.78,1091.53h3.4M1692.78,1127.20h3.4M1692.78,1162.87h3.4M1689.38,937.30H1692.78M1689.38,997.38H1692.78M1689.38,1057.46H1692.78M1689.38,1117.54H1692.78M1689.38,1177.62H1692.78M1868.72,948.85h3.4M1868.72,984.52h3.4M1868.72,1020.19h3.4M1868.72,1055.86h3.4M1868.72,1091.53h3.4M1868.72,1127.20h3.4M1868.72,1162.87h3.4M1865.32,937.30H1868.72M1865.32,997.38H1868.72M1865.32,1057.46H1868.72M1865.32,1117.54H1868.72M1865.32,1177.62H1868.72M2044.66,948.85h3.4M2044.66,984.52h3.4M2044.66,1020.19h3.4M2044.66,1055.86h3.4M2044.66,1091.53h3.4M2044.66,1127.20h3.4M2044.66,1162.87h3.4M2041.26,937.30H2044.66M2041.26,997.38H2044.66M2041.26,1057.46H2044.66M2041.26,1117.54H2044.66M2041.26,1177.62H2044.66M2220.60,948.85h3.4M2220.60,984.52h3.4M2220.60,1020.19h3.4M2220.60,1055.86h3.4M2220.60,1091.53h3.4M2220.60,1127.20h3.4M2220.60,1162.87h3.4M2217.20,937.30H2220.60M2217.20,997.38H2220.60M2217.20,1057.46H2220.60M2217.20,1117.54H2220.60M2217.20,1177.62H2220.60M2396.54,948.85h3.4M2396.54,984.52h3.4M2396.54,1020.19h3.4M2396.54,1055.86h3.4M2396.54,1091.53h3.4M2396.54,1127.20h3.4M2396.54,1162.87h3.4" fill="none" stroke="#444" stroke-width="1.3"/>
<text transform="translate(1333.90,941.05) scale(1,1.07)" text-anchor="end">1.5</text>
<text transform="translate(1333.90,1001.13) scale(1,1.07)" text-anchor="end">1.0</text>
<text transform="translate(1333.90,1061.21) scale(1,1.07)" text-anchor="end">0.5</text>
<text transform="translate(1333.90,1121.29) scale(1,1.07)" text-anchor="end">0.0</text>
<text transform="translate(1333.90,1181.37) scale(1,1.07)" text-anchor="end">−0.5</text>
<text transform="translate(1428.57,1201.45) scale(1,1.07)" text-anchor="middle">May 2004 (BA1)</text>
<text transform="translate(1604.51,1201.45) scale(1,1.07)" text-anchor="middle">Sept. 2004 (BA2)</text>
<text transform="translate(1780.45,1201.45) scale(1,1.07)" text-anchor="middle">April 2005 (BA3)</text>
<text transform="translate(1956.39,1201.45) scale(1,1.07)" text-anchor="middle">July 2006 (BA4)</text>
<text transform="translate(2132.33,1201.45) scale(1,1.07)" text-anchor="middle">August 2007 (BA5)</text>
<text transform="translate(2308.27,1201.45) scale(1,1.07)" text-anchor="middle">August 2008 (BA6)</text>
<text transform="translate(1304.50,1051.40) rotate(-90) scale(1.07,1)" text-anchor="middle">log(TChl a) [<tspan font-style="italic">mg</tspan>/<tspan font-style="italic">m</tspan><tspan font-size="6.61" dy="-3.4">3</tspan><tspan dy="3.4">]</tspan></text>
<text transform="translate(2417.20,1050.30) rotate(-90) scale(1.07,1)" text-anchor="middle">Latitude (N)</text>
<text transform="translate(2380.70,935.15) scale(1,1.07)" text-anchor="middle" font-size="11.4">(dd)</text>
<rect x="2437.2" y="924.60" width="27.60" height="250.60" fill="url(#rdbu)" stroke="#1a1a1a" stroke-width="1.1"/>
<path d="M2464.8,934.40h3.6M2464.8,981.02h3.6M2464.8,1027.64h3.6M2464.8,1074.26h3.6M2464.8,1120.88h3.6M2464.8,1167.50h3.6" fill="none" stroke="#444" stroke-width="1.3"/>
<text transform="translate(2471.40,938.15) scale(1,1.07)">2.5</text>
<text transform="translate(2471.40,984.77) scale(1,1.07)">2.0</text>
<text transform="translate(2471.40,1031.39) scale(1,1.07)">1.5</text>
<text transform="translate(2471.40,1078.01) scale(1,1.07)">1.0</text>
<text transform="translate(2471.40,1124.63) scale(1,1.07)">0.5</text>
<text transform="translate(2471.40,1171.25) scale(1,1.07)">0.0</text>
</g>
</g>
</svg>
</body></html>
